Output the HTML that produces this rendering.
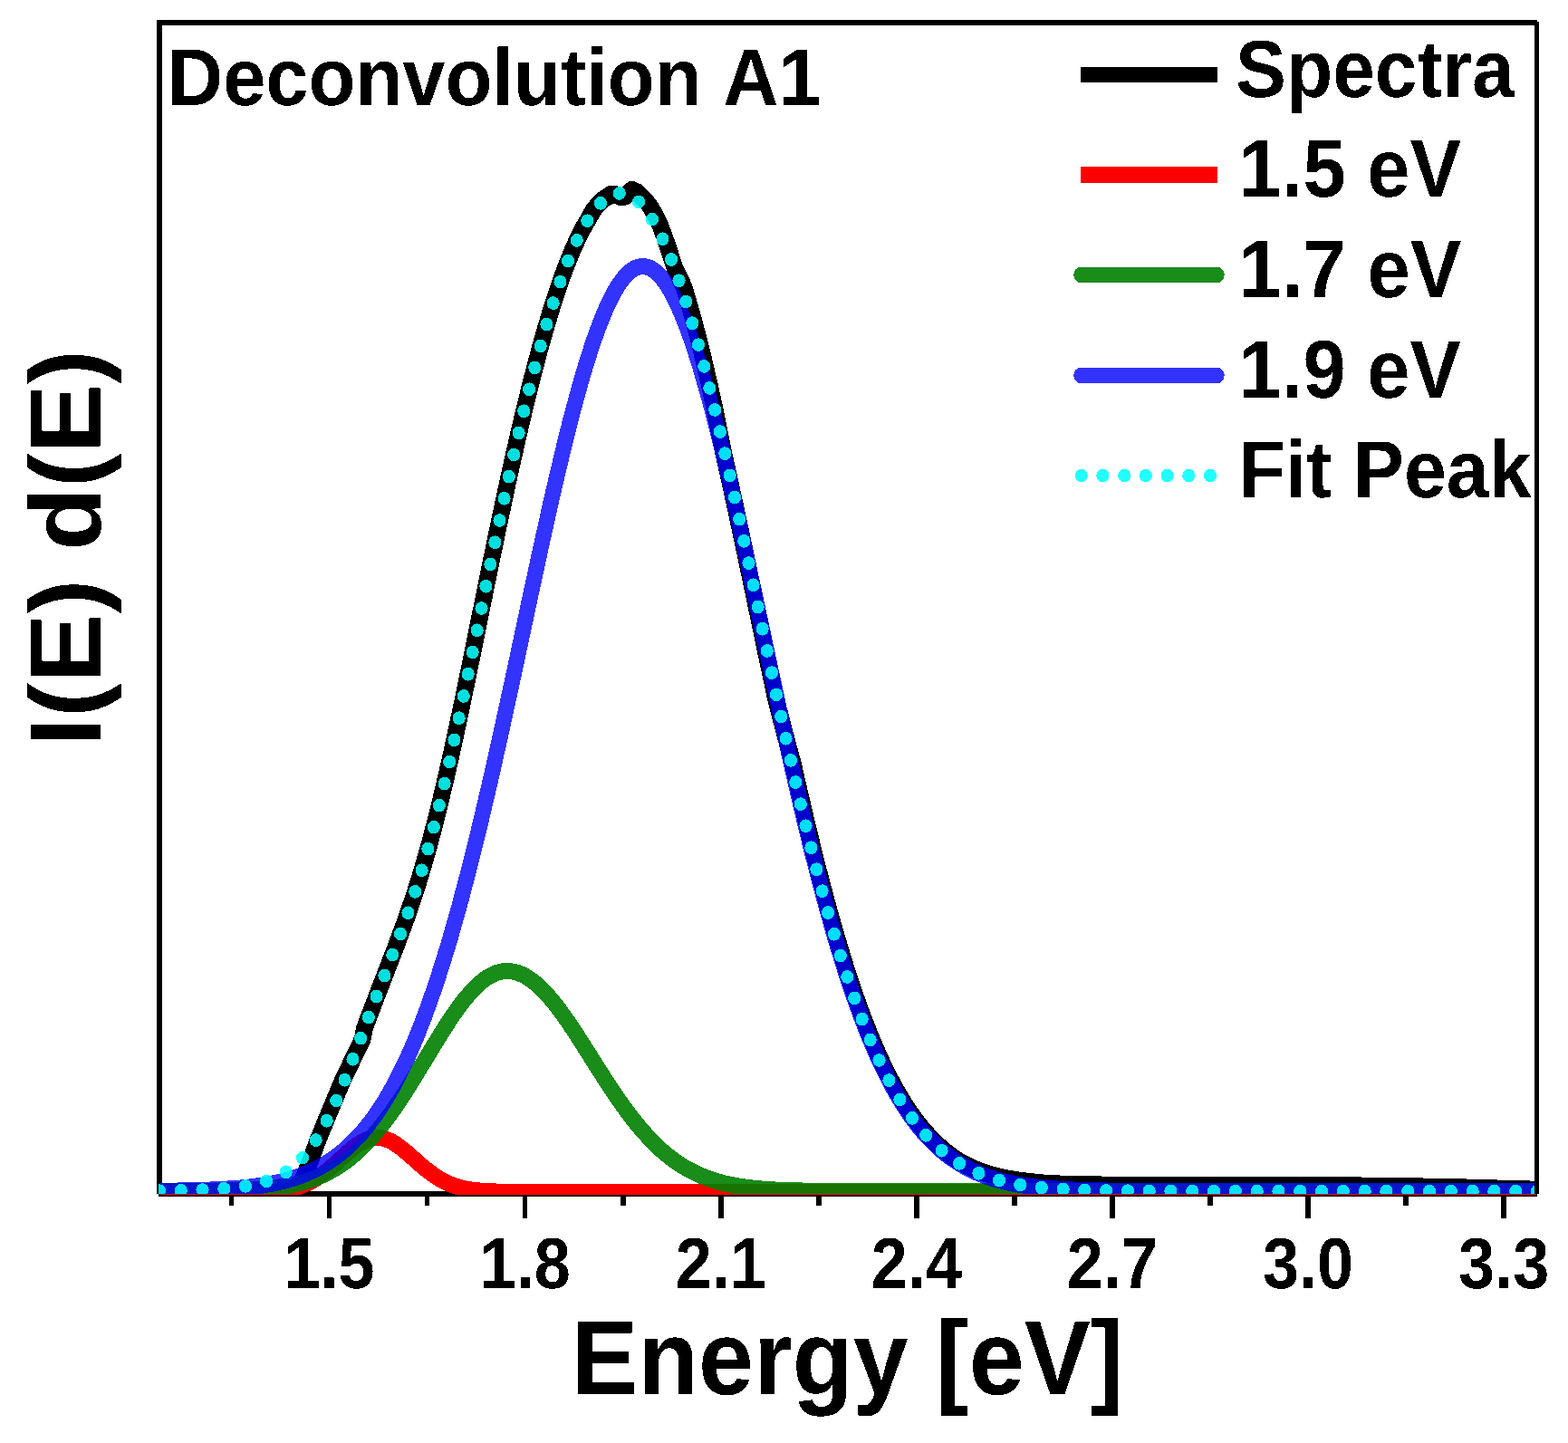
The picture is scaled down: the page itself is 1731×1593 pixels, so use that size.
<!DOCTYPE html>
<html lang="en"><head><meta charset="utf-8"><title>Deconvolution A1</title>
<style>html,body{margin:0;padding:0;background:#fff;}svg{display:block;}text{font-family:"Liberation Sans",sans-serif;font-weight:bold;fill:#000;font-kerning:none;text-rendering:geometricPrecision;}</style></head><body>
<svg width="1731" height="1593" viewBox="0 0 1731 1593">
<rect width="1731" height="1593" fill="#fff"/>
<defs><clipPath id="c"><rect x="182.29" y="28" width="1582.29" height="1290.00"/></clipPath><clipPath id="c2"><rect x="182.29" y="1318" width="1585.42" height="1"/></clipPath></defs>
<g transform="scale(0.96,1)" shape-rendering="crispEdges">
<g stroke="#000" stroke-width="6" fill="none">
<line x1="183.33" y1="22" x2="183.33" y2="1318"/>
<line x1="182.29" y1="1318" x2="1767.71" y2="1318"/>
<line x1="181.25" y1="25" x2="1767.71" y2="25"/>
<line x1="266.10" y1="1318" x2="266.10" y2="1331"/>
<line x1="378.65" y1="1318" x2="378.65" y2="1345"/>
<line x1="491.19" y1="1318" x2="491.19" y2="1331"/>
<line x1="603.74" y1="1318" x2="603.74" y2="1345"/>
<line x1="716.29" y1="1318" x2="716.29" y2="1331"/>
<line x1="828.83" y1="1318" x2="828.83" y2="1345"/>
<line x1="941.38" y1="1318" x2="941.38" y2="1331"/>
<line x1="1053.93" y1="1318" x2="1053.93" y2="1345"/>
<line x1="1166.47" y1="1318" x2="1166.47" y2="1331"/>
<line x1="1279.02" y1="1318" x2="1279.02" y2="1345"/>
<line x1="1391.57" y1="1318" x2="1391.57" y2="1331"/>
<line x1="1504.11" y1="1318" x2="1504.11" y2="1345"/>
<line x1="1616.66" y1="1318" x2="1616.66" y2="1331"/>
<line x1="1729.21" y1="1318" x2="1729.21" y2="1345"/>
</g>
<g clip-path="url(#c)" fill="none" stroke-linejoin="round">
<path d="M183.3,1315.5 L312.5,1315.5 L339.6,1315.0 L346.9,1305.0 L357.1,1281.3 L364.9,1260.3 L374.3,1238.2 L393.6,1193.7 L416.9,1147.0 L419.0,1135.9 L421.0,1130.6 L423.1,1125.2 L425.2,1119.9 L427.3,1114.6 L429.4,1109.4 L431.5,1104.1 L433.5,1098.9 L435.6,1093.7 L437.7,1088.5 L439.8,1083.4 L441.9,1078.2 L444.0,1073.0 L446.0,1067.9 L448.1,1062.7 L450.2,1057.5 L452.3,1052.3 L454.4,1047.1 L456.5,1041.8 L458.5,1036.5 L460.6,1031.2 L462.7,1025.7 L464.8,1020.2 L466.9,1014.6 L469.0,1009.0 L471.0,1003.2 L473.1,997.3 L475.2,991.3 L477.3,985.2 L479.4,979.0 L481.5,972.6 L483.5,966.1 L485.6,959.5 L487.7,952.7 L489.8,945.7 L491.9,938.6 L494.0,931.3 L496.0,923.9 L498.1,916.4 L500.2,908.6 L502.3,900.8 L504.4,892.7 L506.5,884.6 L508.5,876.2 L510.6,867.8 L512.7,859.2 L514.8,850.5 L516.9,841.6 L519.0,832.7 L521.0,823.6 L523.1,814.4 L525.2,805.1 L527.3,795.7 L529.4,786.3 L531.5,776.8 L533.5,767.2 L535.6,757.5 L537.7,747.8 L539.8,738.0 L541.9,728.2 L544.0,718.4 L546.0,708.5 L548.1,698.6 L550.2,688.7 L552.3,678.8 L554.4,668.9 L556.5,659.1 L558.5,649.2 L560.6,639.4 L562.7,629.6 L564.8,619.8 L566.9,610.0 L569.0,600.4 L571.0,590.7 L573.1,581.1 L575.2,571.6 L577.3,562.2 L579.4,552.8 L581.5,543.5 L583.5,534.2 L585.6,525.1 L587.7,516.0 L589.8,507.0 L591.9,498.1 L594.0,489.3 L596.0,480.6 L598.1,472.0 L600.2,463.4 L602.3,455.0 L604.4,446.7 L606.5,438.5 L608.5,430.4 L610.6,422.4 L612.7,414.6 L614.8,406.8 L616.9,399.2 L619.0,391.7 L621.0,384.3 L623.1,377.1 L625.2,370.0 L627.3,363.0 L629.4,356.2 L631.5,349.5 L633.5,343.0 L635.6,336.6 L637.7,330.3 L639.8,324.2 L641.9,318.2 L644.0,312.4 L646.0,306.7 L648.1,301.2 L650.2,295.9 L652.3,290.7 L654.4,285.6 L656.5,280.7 L658.5,276.0 L660.6,271.5 L662.7,267.1 L664.8,262.8 L666.9,258.8 L669.0,254.9 L671.0,251.1 L673.1,247.6 L675.2,244.2 L682.4,231.8 L691.7,221.5 L702.6,214.7 L709.4,215.2 L714.6,217.5 L719.8,216.5 L726.7,209.6 L732.3,212.0 L738.5,218.0 L746.5,226.2 L753.1,237.0 L759.4,249.3 L768.1,272.4 L775.8,295.5 L786.1,316.0 L788.1,322.2 L790.1,328.5 L792.0,334.9 L794.0,341.5 L796.0,348.2 L798.0,355.1 L799.9,362.1 L801.9,369.2 L803.9,376.5 L805.8,383.9 L807.7,391.4 L809.6,399.1 L811.5,406.9 L813.4,414.8 L815.4,422.8 L817.3,430.9 L819.1,439.2 L821.0,447.5 L822.8,456.0 L824.6,464.5 L826.4,473.1 L828.3,481.9 L830.1,490.7 L831.9,499.5 L834.0,508.4 L836.1,517.4 L838.1,526.4 L840.2,535.5 L842.3,544.7 L844.4,553.9 L846.5,563.2 L848.5,572.5 L850.6,581.9 L852.7,591.3 L854.8,600.7 L856.9,610.1 L858.9,619.6 L861.0,629.1 L863.1,638.7 L865.2,648.2 L867.3,657.7 L869.3,667.3 L871.4,676.9 L873.5,686.4 L875.6,696.0 L877.7,705.5 L879.7,715.0 L881.8,724.5 L883.9,734.0 L886.0,743.5 L888.1,752.9 L890.1,762.3 L892.2,771.6 L894.7,780.9 L897.2,790.1 L899.6,799.2 L902.1,808.3 L904.6,817.4 L907.1,826.4 L909.6,835.3 L912.1,844.2 L914.2,853.1 L916.3,861.9 L918.4,870.6 L920.5,879.3 L922.6,887.9 L924.7,896.5 L926.7,904.9 L928.8,913.3 L930.9,921.6 L933.0,929.8 L935.1,937.9 L937.2,946.0 L939.2,953.9 L941.3,961.8 L943.4,969.5 L945.5,977.2 L947.6,984.7 L949.7,992.2 L951.7,999.6 L953.8,1006.9 L955.9,1014.0 L958.0,1021.1 L960.1,1028.1 L962.2,1035.0 L964.3,1041.7 L966.3,1048.4 L968.4,1054.9 L970.5,1061.4 L972.6,1067.8 L974.7,1074.0 L976.7,1080.1 L978.8,1086.2 L980.9,1092.1 L983.0,1097.9 L985.1,1103.6 L987.2,1109.3 L989.2,1114.8 L991.3,1120.2 L993.4,1125.5 L995.5,1130.7 L997.6,1135.8 L999.6,1140.7 L1001.7,1145.6 L1003.8,1150.4 L1005.9,1155.1 L1008.0,1159.7 L1010.0,1164.2 L1012.1,1168.6 L1014.2,1172.9 L1016.3,1177.1 L1018.4,1181.2 L1020.4,1185.2 L1022.5,1189.1 L1024.6,1192.9 L1026.7,1196.6 L1028.7,1200.3 L1030.8,1203.8 L1032.9,1207.3 L1035.0,1210.7 L1037.0,1214.0 L1039.1,1217.2 L1041.2,1220.3 L1043.3,1223.3 L1045.3,1226.3 L1047.4,1229.2 L1049.5,1232.0 L1051.5,1234.7 L1053.6,1237.4 L1055.7,1240.0 L1057.8,1242.5 L1059.8,1244.9 L1061.9,1247.3 L1064.0,1249.6 L1066.0,1251.8 L1068.1,1254.0 L1070.2,1256.1 L1072.2,1258.1 L1074.3,1260.1 L1076.3,1262.0 L1078.4,1263.9 L1080.5,1265.7 L1082.5,1267.4 L1084.6,1269.1 L1086.7,1270.8 L1088.7,1272.4 L1090.8,1273.9 L1092.8,1275.4 L1094.9,1276.8 L1097.0,1278.2 L1099.0,1279.5 L1101.1,1280.8 L1103.1,1282.1 L1105.2,1283.3 L1107.3,1284.4 L1109.4,1285.5 L1111.5,1286.5 L1113.6,1287.5 L1115.7,1288.4 L1117.7,1289.4 L1119.8,1290.2 L1121.9,1291.1 L1124.0,1291.9 L1126.1,1292.7 L1128.2,1293.4 L1130.2,1294.1 L1132.3,1294.8 L1134.4,1295.5 L1136.5,1296.1 L1138.5,1296.7 L1140.6,1297.3 L1142.7,1297.8 L1144.8,1298.3 L1146.8,1298.9 L1148.9,1299.3 L1151.0,1299.8 L1153.0,1300.2 L1155.1,1300.6 L1157.2,1301.0 L1159.2,1301.4 L1161.3,1301.8 L1163.4,1302.1 L1165.4,1302.4 L1167.5,1302.8 L1169.6,1303.0 L1171.6,1303.3 L1173.7,1303.6 L1175.7,1303.8 L1177.8,1304.1 L1179.9,1304.3 L1181.9,1304.6 L1184.0,1304.8 L1186.1,1305.0 L1188.1,1305.2 L1190.2,1305.4 L1192.2,1305.6 L1194.3,1305.8 L1196.4,1306.0 L1198.4,1306.1 L1200.5,1306.3 L1202.6,1306.4 L1204.6,1306.6 L1206.7,1306.7 L1208.8,1306.8 L1210.8,1306.9 L1212.9,1307.0 L1215.0,1307.1 L1217.0,1307.2 L1219.1,1307.3 L1221.2,1307.4 L1223.2,1307.4 L1225.3,1307.5 L1227.4,1307.6 L1229.4,1307.6 L1231.5,1307.7 L1233.6,1307.7 L1235.7,1307.8 L1237.7,1307.8 L1239.8,1307.8 L1241.9,1307.9 L1244.0,1307.9 L1246.0,1307.9 L1248.1,1308.0 L1250.2,1308.0 L1252.3,1308.0 L1254.3,1308.1 L1256.4,1308.1 L1258.5,1308.1 L1260.6,1308.2 L1262.6,1308.2 L1264.7,1308.2 L1266.8,1308.3 L1268.9,1308.3 L1270.9,1308.3 L1273.0,1308.3 L1275.1,1308.4 L1277.2,1308.4 L1279.3,1308.4 L1281.3,1308.4 L1283.4,1308.4 L1285.5,1308.4 L1287.6,1308.5 L1289.6,1308.5 L1291.7,1308.5 L1293.8,1308.5 L1295.9,1308.5 L1298.0,1308.5 L1300.0,1308.5 L1302.1,1308.5 L1304.2,1308.5 L1306.3,1308.5 L1308.4,1308.5 L1310.5,1308.5 L1312.5,1308.5 L1314.6,1308.5 L1316.7,1308.5 L1318.8,1308.5 L1320.9,1308.5 L1322.9,1308.5 L1325.0,1308.5 L1327.1,1308.5 L1329.2,1308.5 L1331.3,1308.5 L1333.4,1308.5 L1335.4,1308.5 L1337.5,1308.5 L1339.6,1308.5 L1341.7,1308.5 L1343.8,1308.5 L1345.8,1308.5 L1347.9,1308.5 L1350.0,1308.5 L1352.1,1308.5 L1354.2,1308.5 L1356.3,1308.5 L1358.3,1308.5 L1360.4,1308.5 L1362.5,1308.5 L1364.6,1308.5 L1366.7,1308.5 L1368.8,1308.5 L1370.8,1308.5 L1372.9,1308.5 L1375.0,1308.5 L1377.1,1308.5 L1379.2,1308.5 L1381.3,1308.5 L1383.3,1308.5 L1385.4,1308.5 L1387.5,1308.5 L1389.6,1308.5 L1391.7,1308.5 L1393.8,1308.4 L1395.8,1308.4 L1397.9,1308.4 L1400.0,1308.4 L1402.1,1308.4 L1404.2,1308.4 L1406.3,1308.4 L1408.3,1308.4 L1410.4,1308.4 L1412.5,1308.4 L1414.6,1308.4 L1416.7,1308.4 L1418.8,1308.4 L1420.8,1308.4 L1422.9,1308.4 L1425.0,1308.4 L1427.1,1308.4 L1429.2,1308.4 L1431.3,1308.4 L1433.3,1308.4 L1435.4,1308.4 L1437.5,1308.4 L1439.6,1308.4 L1441.7,1308.4 L1443.8,1308.4 L1445.8,1308.4 L1447.9,1308.4 L1450.0,1308.4 L1452.1,1308.4 L1454.2,1308.4 L1456.3,1308.4 L1458.3,1308.4 L1460.4,1308.4 L1462.5,1308.4 L1464.6,1308.4 L1466.7,1308.5 L1468.8,1308.5 L1470.8,1308.5 L1472.9,1308.5 L1475.0,1308.5 L1477.1,1308.5 L1479.2,1308.6 L1481.3,1308.6 L1483.3,1308.6 L1485.4,1308.6 L1487.5,1308.6 L1489.6,1308.6 L1491.7,1308.7 L1493.8,1308.7 L1495.8,1308.7 L1497.9,1308.7 L1500.0,1308.7 L1502.1,1308.7 L1504.2,1308.8 L1506.3,1308.8 L1508.3,1308.8 L1510.4,1308.8 L1512.5,1308.8 L1514.6,1308.8 L1516.7,1308.8 L1518.8,1308.9 L1520.8,1308.9 L1522.9,1308.9 L1525.0,1308.9 L1527.1,1308.9 L1529.2,1308.9 L1531.3,1309.0 L1533.3,1309.0 L1535.4,1309.0 L1537.5,1309.0 L1539.6,1309.0 L1541.7,1309.0 L1543.8,1309.1 L1545.8,1309.1 L1547.9,1309.1 L1550.0,1309.1 L1552.1,1309.1 L1554.2,1309.1 L1556.3,1309.2 L1558.3,1309.2 L1560.4,1309.2 L1562.5,1309.2 L1564.6,1309.2 L1566.7,1309.3 L1568.8,1309.3 L1570.8,1309.3 L1572.9,1309.3 L1575.0,1309.4 L1577.1,1309.4 L1579.2,1309.4 L1581.3,1309.5 L1583.3,1309.5 L1585.4,1309.5 L1587.5,1309.6 L1589.6,1309.6 L1591.7,1309.6 L1593.8,1309.6 L1595.8,1309.7 L1597.9,1309.7 L1600.0,1309.7 L1602.1,1309.8 L1604.2,1309.8 L1606.3,1309.8 L1608.3,1309.9 L1610.4,1309.9 L1612.5,1309.9 L1614.6,1309.9 L1616.7,1310.0 L1618.8,1310.0 L1620.8,1310.0 L1622.9,1310.1 L1625.0,1310.1 L1627.1,1310.1 L1629.2,1310.2 L1631.3,1310.2 L1633.3,1310.2 L1635.4,1310.2 L1637.5,1310.3 L1639.6,1310.3 L1641.7,1310.3 L1643.8,1310.4 L1645.8,1310.4 L1647.9,1310.4 L1650.0,1310.5 L1652.1,1310.5 L1654.2,1310.5 L1656.3,1310.5 L1658.3,1310.6 L1660.4,1310.6 L1662.5,1310.6 L1664.6,1310.7 L1666.7,1310.7 L1668.8,1310.8 L1670.8,1310.8 L1672.9,1310.9 L1675.0,1310.9 L1677.1,1311.0 L1679.2,1311.0 L1681.3,1311.1 L1683.3,1311.2 L1685.4,1311.2 L1687.5,1311.3 L1689.6,1311.3 L1691.7,1311.4 L1693.8,1311.4 L1695.8,1311.5 L1697.9,1311.6 L1700.0,1311.6 L1702.1,1311.7 L1704.2,1311.7 L1706.3,1311.8 L1708.3,1311.8 L1710.4,1311.9 L1712.5,1312.0 L1714.6,1312.0 L1716.7,1312.1 L1718.8,1312.1 L1720.8,1312.2 L1722.9,1312.3 L1725.0,1312.3 L1727.1,1312.4 L1729.2,1312.4 L1731.3,1312.5 L1733.3,1312.5 L1735.4,1312.6 L1737.5,1312.7 L1739.6,1312.7 L1741.7,1312.8 L1743.8,1312.8 L1745.8,1312.9 L1747.9,1312.9 L1750.0,1313.0 L1752.1,1313.1 L1754.2,1313.1 L1756.3,1313.2 L1758.3,1313.2 L1760.4,1313.3 L1762.5,1313.3 L1764.6,1313.4 L1766.7,1313.4 L1768.8,1313.4 L1770.8,1313.5" stroke="#000" stroke-width="19.5"/>
<path d="M183.3,1315.8 L185.4,1315.8 L187.5,1315.8 L189.6,1315.8 L191.7,1315.8 L193.8,1315.8 L195.8,1315.8 L197.9,1315.8 L200.0,1315.8 L202.1,1315.8 L204.2,1315.8 L206.2,1315.8 L208.3,1315.8 L210.4,1315.8 L212.5,1315.8 L214.6,1315.8 L216.7,1315.8 L218.8,1315.8 L220.8,1315.8 L222.9,1315.8 L225.0,1315.8 L227.1,1315.8 L229.2,1315.8 L231.2,1315.8 L233.3,1315.8 L235.4,1315.8 L237.5,1315.8 L239.6,1315.8 L241.7,1315.8 L243.8,1315.8 L245.8,1315.8 L247.9,1315.8 L250.0,1315.8 L252.1,1315.8 L254.2,1315.8 L256.2,1315.8 L258.3,1315.8 L260.4,1315.8 L262.5,1315.8 L264.6,1315.8 L266.7,1315.8 L268.8,1315.8 L270.8,1315.8 L272.9,1315.8 L275.0,1315.8 L277.1,1315.7 L279.2,1315.7 L281.2,1315.7 L283.3,1315.7 L285.4,1315.7 L287.5,1315.7 L289.6,1315.6 L291.7,1315.6 L293.8,1315.6 L295.8,1315.5 L297.9,1315.5 L300.0,1315.4 L302.1,1315.4 L304.2,1315.3 L306.2,1315.2 L308.3,1315.1 L310.4,1315.0 L312.5,1314.9 L314.6,1314.8 L316.7,1314.6 L318.8,1314.4 L320.8,1314.2 L322.9,1314.0 L325.0,1313.8 L327.1,1313.5 L329.2,1313.2 L331.2,1312.8 L333.3,1312.4 L335.4,1312.0 L337.5,1311.5 L339.6,1311.0 L341.7,1310.5 L343.8,1309.9 L345.8,1309.2 L347.9,1308.5 L350.0,1307.7 L352.1,1306.8 L354.2,1305.9 L356.2,1305.0 L358.3,1303.9 L360.4,1302.8 L362.5,1301.7 L364.6,1300.4 L366.7,1299.1 L368.8,1297.8 L370.8,1296.3 L372.9,1294.8 L375.0,1293.3 L377.1,1291.7 L379.2,1290.0 L381.2,1288.3 L383.3,1286.6 L385.4,1284.8 L387.5,1283.0 L389.6,1281.2 L391.7,1279.4 L393.8,1277.6 L395.8,1275.8 L397.9,1274.0 L400.0,1272.2 L402.1,1270.5 L404.2,1268.8 L406.2,1267.2 L408.3,1265.7 L410.4,1264.2 L412.5,1262.9 L414.6,1261.6 L416.7,1260.4 L418.8,1259.4 L420.8,1258.4 L422.9,1257.6 L425.0,1257.0 L427.1,1256.5 L429.2,1256.1 L431.2,1255.9 L433.3,1255.8 L435.4,1255.9 L437.5,1256.1 L439.6,1256.4 L441.7,1256.9 L443.8,1257.6 L445.8,1258.3 L447.9,1259.2 L450.0,1260.2 L452.1,1261.3 L454.2,1262.5 L456.2,1263.8 L458.3,1265.2 L460.4,1266.7 L462.5,1268.3 L464.6,1269.9 L466.7,1271.6 L468.8,1273.3 L470.8,1275.0 L472.9,1276.8 L475.0,1278.5 L477.1,1280.3 L479.2,1282.1 L481.2,1283.8 L483.3,1285.6 L485.4,1287.3 L487.5,1289.0 L489.6,1290.6 L491.7,1292.2 L493.8,1293.7 L495.8,1295.2 L497.9,1296.7 L500.0,1298.1 L502.1,1299.4 L504.2,1300.6 L506.2,1301.8 L508.3,1303.0 L510.4,1304.0 L512.5,1305.0 L514.6,1306.0 L516.7,1306.9 L518.8,1307.7 L520.8,1308.4 L522.9,1309.2 L525.0,1309.8 L527.1,1310.4 L529.2,1311.0 L531.2,1311.5 L533.3,1311.9 L535.4,1312.4 L537.5,1312.7 L539.6,1313.1 L541.7,1313.4 L543.8,1313.7 L545.8,1313.9 L547.9,1314.2 L550.0,1314.4 L552.1,1314.5 L554.2,1314.7 L556.2,1314.8 L558.3,1315.0 L560.4,1315.1 L562.5,1315.2 L564.6,1315.3 L566.7,1315.3 L568.8,1315.4 L570.8,1315.5 L572.9,1315.5 L575.0,1315.6 L577.1,1315.6 L579.2,1315.6 L581.2,1315.7 L583.3,1315.7 L585.4,1315.7 L587.5,1315.7 L589.6,1315.7 L591.7,1315.7 L593.8,1315.7 L595.8,1315.8 L597.9,1315.8 L600.0,1315.8 L602.1,1315.8 L604.2,1315.8 L606.2,1315.8 L608.3,1315.8 L610.4,1315.8 L612.5,1315.8 L614.6,1315.8 L616.7,1315.8 L618.8,1315.8 L620.8,1315.8 L622.9,1315.8 L625.0,1315.8 L627.1,1315.8 L629.2,1315.8 L631.2,1315.8 L633.3,1315.8 L635.4,1315.8 L637.5,1315.8 L639.6,1315.8 L641.7,1315.8 L643.8,1315.8 L645.8,1315.8 L647.9,1315.8 L650.0,1315.8 L652.1,1315.8 L654.2,1315.8 L656.2,1315.8 L658.3,1315.8 L660.4,1315.8 L662.5,1315.8 L664.6,1315.8 L666.7,1315.8 L668.8,1315.8 L670.8,1315.8 L672.9,1315.8 L675.0,1315.8 L677.1,1315.8 L679.2,1315.8 L681.2,1315.8 L683.3,1315.8 L685.4,1315.8 L687.5,1315.8 L689.6,1315.8 L691.7,1315.8 L693.8,1315.8 L695.8,1315.8 L697.9,1315.8 L700.0,1315.8 L702.1,1315.8 L704.2,1315.8 L706.2,1315.8 L708.3,1315.8 L710.4,1315.8 L712.5,1315.8 L714.6,1315.8 L716.7,1315.8 L718.8,1315.8 L720.8,1315.8 L722.9,1315.8 L725.0,1315.8 L727.1,1315.8 L729.2,1315.8 L731.2,1315.8 L733.3,1315.8 L735.4,1315.8 L737.5,1315.8 L739.6,1315.8 L741.7,1315.8 L743.8,1315.8 L745.8,1315.8 L747.9,1315.8 L750.0,1315.8 L752.1,1315.8 L754.2,1315.8 L756.2,1315.8 L758.3,1315.8 L760.4,1315.8 L762.5,1315.8 L764.6,1315.8 L766.7,1315.8 L768.8,1315.8 L770.8,1315.8 L772.9,1315.8 L775.0,1315.8 L777.1,1315.8 L779.2,1315.8 L781.2,1315.8 L783.3,1315.8 L785.4,1315.8 L787.5,1315.8 L789.6,1315.8 L791.7,1315.8 L793.8,1315.8 L795.8,1315.8 L797.9,1315.8 L800.0,1315.8 L802.1,1315.8 L804.2,1315.8 L806.2,1315.8 L808.3,1315.8 L810.4,1315.8 L812.5,1315.8 L814.6,1315.8 L816.7,1315.8 L818.8,1315.8 L820.8,1315.8 L822.9,1315.8 L825.0,1315.8 L827.1,1315.8 L829.2,1315.8 L831.2,1315.8 L833.3,1315.8 L835.4,1315.8 L837.5,1315.8 L839.6,1315.8 L841.7,1315.8 L843.8,1315.8 L845.8,1315.8 L847.9,1315.8 L850.0,1315.8 L852.1,1315.8 L854.2,1315.8 L856.2,1315.8 L858.3,1315.8 L860.4,1315.8 L862.5,1315.8 L864.6,1315.8 L866.7,1315.8 L868.8,1315.8 L870.8,1315.8 L872.9,1315.8 L875.0,1315.8 L877.1,1315.8 L879.2,1315.8 L881.2,1315.8 L883.3,1315.8 L885.4,1315.8 L887.5,1315.8 L889.6,1315.8 L891.7,1315.8 L893.8,1315.8 L895.8,1315.8 L897.9,1315.8 L900.0,1315.8 L902.1,1315.8 L904.2,1315.8 L906.2,1315.8 L908.3,1315.8 L910.4,1315.8 L912.5,1315.8 L914.6,1315.8 L916.7,1315.8 L918.8,1315.8 L920.8,1315.8 L922.9,1315.8 L925.0,1315.8 L927.1,1315.8 L929.2,1315.8 L931.2,1315.8 L933.3,1315.8 L935.4,1315.8 L937.5,1315.8 L939.6,1315.8 L941.7,1315.8 L943.8,1315.8 L945.8,1315.8 L947.9,1315.8 L950.0,1315.8 L952.1,1315.8 L954.2,1315.8 L956.2,1315.8 L958.3,1315.8 L960.4,1315.8 L962.5,1315.8 L964.6,1315.8 L966.7,1315.8 L968.8,1315.8 L970.8,1315.8 L972.9,1315.8 L975.0,1315.8 L977.1,1315.8 L979.2,1315.8 L981.2,1315.8 L983.3,1315.8 L985.4,1315.8 L987.5,1315.8 L989.6,1315.8 L991.7,1315.8 L993.8,1315.8 L995.8,1315.8 L997.9,1315.8 L1000.0,1315.8 L1002.1,1315.8 L1004.2,1315.8 L1006.2,1315.8 L1008.3,1315.8 L1010.4,1315.8 L1012.5,1315.8 L1014.6,1315.8 L1016.7,1315.8 L1018.8,1315.8 L1020.8,1315.8 L1022.9,1315.8 L1025.0,1315.8 L1027.1,1315.8 L1029.2,1315.8 L1031.2,1315.8 L1033.3,1315.8 L1035.4,1315.8 L1037.5,1315.8 L1039.6,1315.8 L1041.7,1315.8 L1043.8,1315.8 L1045.8,1315.8 L1047.9,1315.8 L1050.0,1315.8 L1052.1,1315.8 L1054.2,1315.8 L1056.2,1315.8 L1058.3,1315.8 L1060.4,1315.8 L1062.5,1315.8 L1064.6,1315.8 L1066.7,1315.8 L1068.8,1315.8 L1070.8,1315.8 L1072.9,1315.8 L1075.0,1315.8 L1077.1,1315.8 L1079.2,1315.8 L1081.2,1315.8 L1083.3,1315.8 L1085.4,1315.8 L1087.5,1315.8 L1089.6,1315.8 L1091.7,1315.8 L1093.8,1315.8 L1095.8,1315.8 L1097.9,1315.8 L1100.0,1315.8 L1102.1,1315.8 L1104.2,1315.8 L1106.2,1315.8 L1108.3,1315.8 L1110.4,1315.8 L1112.5,1315.8 L1114.6,1315.8 L1116.7,1315.8 L1118.8,1315.8 L1120.8,1315.8 L1122.9,1315.8 L1125.0,1315.8 L1127.1,1315.8 L1129.2,1315.8 L1131.2,1315.8 L1133.3,1315.8 L1135.4,1315.8 L1137.5,1315.8 L1139.6,1315.8 L1141.7,1315.8 L1143.8,1315.8 L1145.8,1315.8 L1147.9,1315.8 L1150.0,1315.8 L1152.1,1315.8 L1154.2,1315.8 L1156.2,1315.8 L1158.3,1315.8 L1160.4,1315.8 L1162.5,1315.8 L1164.6,1315.8 L1166.7,1315.8 L1168.8,1315.8 L1170.8,1315.8 L1172.9,1315.8 L1175.0,1315.8 L1177.1,1315.8 L1179.2,1315.8 L1181.2,1315.8 L1183.3,1315.8 L1185.4,1315.8 L1187.5,1315.8 L1189.6,1315.8 L1191.7,1315.8 L1193.8,1315.8 L1195.8,1315.8 L1197.9,1315.8 L1200.0,1315.8 L1202.1,1315.8 L1204.2,1315.8 L1206.2,1315.8 L1208.3,1315.8 L1210.4,1315.8 L1212.5,1315.8 L1214.6,1315.8 L1216.7,1315.8 L1218.8,1315.8 L1220.8,1315.8 L1222.9,1315.8 L1225.0,1315.8 L1227.1,1315.8 L1229.2,1315.8 L1231.2,1315.8 L1233.3,1315.8 L1235.4,1315.8 L1237.5,1315.8 L1239.6,1315.8 L1241.7,1315.8 L1243.8,1315.8 L1245.8,1315.8 L1247.9,1315.8 L1250.0,1315.8 L1252.1,1315.8 L1254.2,1315.8 L1256.2,1315.8 L1258.3,1315.8 L1260.4,1315.8 L1262.5,1315.8 L1264.6,1315.8 L1266.7,1315.8 L1268.8,1315.8 L1270.8,1315.8 L1272.9,1315.8 L1275.0,1315.8 L1277.1,1315.8 L1279.2,1315.8 L1281.2,1315.8 L1283.3,1315.8 L1285.4,1315.8 L1287.5,1315.8 L1289.6,1315.8 L1291.7,1315.8 L1293.8,1315.8 L1295.8,1315.8 L1297.9,1315.8 L1300.0,1315.8 L1302.1,1315.8 L1304.2,1315.8 L1306.2,1315.8 L1308.3,1315.8 L1310.4,1315.8 L1312.5,1315.8 L1314.6,1315.8 L1316.7,1315.8 L1318.8,1315.8 L1320.8,1315.8 L1322.9,1315.8 L1325.0,1315.8 L1327.1,1315.8 L1329.2,1315.8 L1331.2,1315.8 L1333.3,1315.8 L1335.4,1315.8 L1337.5,1315.8 L1339.6,1315.8 L1341.7,1315.8 L1343.8,1315.8 L1345.8,1315.8 L1347.9,1315.8 L1350.0,1315.8 L1352.1,1315.8 L1354.2,1315.8 L1356.2,1315.8 L1358.3,1315.8 L1360.4,1315.8 L1362.5,1315.8 L1364.6,1315.8 L1366.7,1315.8 L1368.8,1315.8 L1370.8,1315.8 L1372.9,1315.8 L1375.0,1315.8 L1377.1,1315.8 L1379.2,1315.8 L1381.2,1315.8 L1383.3,1315.8 L1385.4,1315.8 L1387.5,1315.8 L1389.6,1315.8 L1391.7,1315.8 L1393.8,1315.8 L1395.8,1315.8 L1397.9,1315.8 L1400.0,1315.8 L1402.1,1315.8 L1404.2,1315.8 L1406.2,1315.8 L1408.3,1315.8 L1410.4,1315.8 L1412.5,1315.8 L1414.6,1315.8 L1416.7,1315.8 L1418.8,1315.8 L1420.8,1315.8 L1422.9,1315.8 L1425.0,1315.8 L1427.1,1315.8 L1429.2,1315.8 L1431.2,1315.8 L1433.3,1315.8 L1435.4,1315.8 L1437.5,1315.8 L1439.6,1315.8 L1441.7,1315.8 L1443.8,1315.8 L1445.8,1315.8 L1447.9,1315.8 L1450.0,1315.8 L1452.1,1315.8 L1454.2,1315.8 L1456.2,1315.8 L1458.3,1315.8 L1460.4,1315.8 L1462.5,1315.8 L1464.6,1315.8 L1466.7,1315.8 L1468.8,1315.8 L1470.8,1315.8 L1472.9,1315.8 L1475.0,1315.8 L1477.1,1315.8 L1479.2,1315.8 L1481.2,1315.8 L1483.3,1315.8 L1485.4,1315.8 L1487.5,1315.8 L1489.6,1315.8 L1491.7,1315.8 L1493.8,1315.8 L1495.8,1315.8 L1497.9,1315.8 L1500.0,1315.8 L1502.1,1315.8 L1504.2,1315.8 L1506.2,1315.8 L1508.3,1315.8 L1510.4,1315.8 L1512.5,1315.8 L1514.6,1315.8 L1516.7,1315.8 L1518.8,1315.8 L1520.8,1315.8 L1522.9,1315.8 L1525.0,1315.8 L1527.1,1315.8 L1529.2,1315.8 L1531.2,1315.8 L1533.3,1315.8 L1535.4,1315.8 L1537.5,1315.8 L1539.6,1315.8 L1541.7,1315.8 L1543.8,1315.8 L1545.8,1315.8 L1547.9,1315.8 L1550.0,1315.8 L1552.1,1315.8 L1554.2,1315.8 L1556.2,1315.8 L1558.3,1315.8 L1560.4,1315.8 L1562.5,1315.8 L1564.6,1315.8 L1566.7,1315.8 L1568.8,1315.8 L1570.8,1315.8 L1572.9,1315.8 L1575.0,1315.8 L1577.1,1315.8 L1579.2,1315.8 L1581.2,1315.8 L1583.3,1315.8 L1585.4,1315.8 L1587.5,1315.8 L1589.6,1315.8 L1591.7,1315.8 L1593.8,1315.8 L1595.8,1315.8 L1597.9,1315.8 L1600.0,1315.8 L1602.1,1315.8 L1604.2,1315.8 L1606.2,1315.8 L1608.3,1315.8 L1610.4,1315.8 L1612.5,1315.8 L1614.6,1315.8 L1616.7,1315.8 L1618.8,1315.8 L1620.8,1315.8 L1622.9,1315.8 L1625.0,1315.8 L1627.1,1315.8 L1629.2,1315.8 L1631.2,1315.8 L1633.3,1315.8 L1635.4,1315.8 L1637.5,1315.8 L1639.6,1315.8 L1641.7,1315.8 L1643.8,1315.8 L1645.8,1315.8 L1647.9,1315.8 L1650.0,1315.8 L1652.1,1315.8 L1654.2,1315.8 L1656.2,1315.8 L1658.3,1315.8 L1660.4,1315.8 L1662.5,1315.8 L1664.6,1315.8 L1666.7,1315.8 L1668.8,1315.8 L1670.8,1315.8 L1672.9,1315.8 L1675.0,1315.8 L1677.1,1315.8 L1679.2,1315.8 L1681.2,1315.8 L1683.3,1315.8 L1685.4,1315.8 L1687.5,1315.8 L1689.6,1315.8 L1691.7,1315.8 L1693.8,1315.8 L1695.8,1315.8 L1697.9,1315.8 L1700.0,1315.8 L1702.1,1315.8 L1704.2,1315.8 L1706.2,1315.8 L1708.3,1315.8 L1710.4,1315.8 L1712.5,1315.8 L1714.6,1315.8 L1716.7,1315.8 L1718.8,1315.8 L1720.8,1315.8 L1722.9,1315.8 L1725.0,1315.8 L1727.1,1315.8 L1729.2,1315.8 L1731.2,1315.8 L1733.3,1315.8 L1735.4,1315.8 L1737.5,1315.8 L1739.6,1315.8 L1741.7,1315.8 L1743.8,1315.8 L1745.8,1315.8 L1747.9,1315.8 L1750.0,1315.8 L1752.1,1315.8 L1754.2,1315.8 L1756.2,1315.8 L1758.3,1315.8 L1760.4,1315.8 L1762.5,1315.8 L1764.6,1315.8 L1766.7,1315.8" stroke="#ff0000" stroke-width="18"/>
<path d="M183.3,1315.0 L185.4,1315.0 L187.5,1315.0 L189.6,1315.0 L191.7,1315.0 L193.8,1315.0 L195.8,1315.0 L197.9,1315.0 L200.0,1315.0 L202.1,1314.9 L204.2,1314.9 L206.2,1314.9 L208.3,1314.9 L210.4,1314.9 L212.5,1314.9 L214.6,1314.9 L216.7,1314.9 L218.8,1314.9 L220.8,1314.9 L222.9,1314.9 L225.0,1314.9 L227.1,1314.8 L229.2,1314.8 L231.2,1314.8 L233.3,1314.8 L235.4,1314.8 L237.5,1314.8 L239.6,1314.7 L241.7,1314.7 L243.8,1314.7 L245.8,1314.7 L247.9,1314.6 L250.0,1314.6 L252.1,1314.6 L254.2,1314.5 L256.2,1314.5 L258.3,1314.5 L260.4,1314.4 L262.5,1314.4 L264.6,1314.3 L266.7,1314.3 L268.8,1314.2 L270.8,1314.2 L272.9,1314.1 L275.0,1314.0 L277.1,1314.0 L279.2,1313.9 L281.2,1313.8 L283.3,1313.7 L285.4,1313.6 L287.5,1313.5 L289.6,1313.4 L291.7,1313.3 L293.8,1313.1 L295.8,1313.0 L297.9,1312.9 L300.0,1312.7 L302.1,1312.5 L304.2,1312.4 L306.2,1312.2 L308.3,1312.0 L310.4,1311.8 L312.5,1311.6 L314.6,1311.3 L316.7,1311.1 L318.8,1310.8 L320.8,1310.5 L322.9,1310.3 L325.0,1309.9 L327.1,1309.6 L329.2,1309.3 L331.2,1308.9 L333.3,1308.5 L335.4,1308.1 L337.5,1307.7 L339.6,1307.3 L341.7,1306.8 L343.8,1306.3 L345.8,1305.8 L347.9,1305.2 L350.0,1304.7 L352.1,1304.1 L354.2,1303.5 L356.2,1302.8 L358.3,1302.1 L360.4,1301.4 L362.5,1300.6 L364.6,1299.9 L366.7,1299.0 L368.8,1298.2 L370.8,1297.3 L372.9,1296.4 L375.0,1295.4 L377.1,1294.4 L379.2,1293.3 L381.2,1292.2 L383.3,1291.1 L385.4,1289.9 L387.5,1288.7 L389.6,1287.4 L391.7,1286.1 L393.8,1284.8 L395.8,1283.4 L397.9,1281.9 L400.0,1280.4 L402.1,1278.8 L404.2,1277.2 L406.2,1275.5 L408.3,1273.8 L410.4,1272.1 L412.5,1270.2 L414.6,1268.4 L416.7,1266.4 L418.8,1264.4 L420.8,1262.4 L422.9,1260.3 L425.0,1258.2 L427.1,1255.9 L429.2,1253.7 L431.2,1251.4 L433.3,1249.0 L435.4,1246.6 L437.5,1244.1 L439.6,1241.6 L441.7,1239.0 L443.8,1236.4 L445.8,1233.7 L447.9,1231.0 L450.0,1228.2 L452.1,1225.4 L454.2,1222.5 L456.2,1219.6 L458.3,1216.6 L460.4,1213.6 L462.5,1210.6 L464.6,1207.6 L466.7,1204.4 L468.8,1201.3 L470.8,1198.2 L472.9,1195.0 L475.0,1191.7 L477.1,1188.5 L479.2,1185.2 L481.2,1182.0 L483.3,1178.7 L485.4,1175.4 L487.5,1172.1 L489.6,1168.8 L491.7,1165.5 L493.8,1162.2 L495.8,1158.8 L497.9,1155.6 L500.0,1152.3 L502.1,1149.0 L504.2,1145.8 L506.2,1142.5 L508.3,1139.3 L510.4,1136.2 L512.5,1133.0 L514.6,1130.0 L516.7,1126.9 L518.8,1123.9 L520.8,1121.0 L522.9,1118.1 L525.0,1115.2 L527.1,1112.4 L529.2,1109.7 L531.2,1107.1 L533.3,1104.5 L535.4,1102.0 L537.5,1099.6 L539.6,1097.3 L541.7,1095.0 L543.8,1092.9 L545.8,1090.8 L547.9,1088.8 L550.0,1086.9 L552.1,1085.2 L554.2,1083.5 L556.2,1081.9 L558.3,1080.5 L560.4,1079.1 L562.5,1077.9 L564.6,1076.8 L566.7,1075.8 L568.8,1074.9 L570.8,1074.1 L572.9,1073.4 L575.0,1072.9 L577.1,1072.5 L579.2,1072.2 L581.2,1072.0 L583.3,1072.0 L585.4,1072.1 L587.5,1072.3 L589.6,1072.6 L591.7,1073.0 L593.8,1073.5 L595.8,1074.1 L597.9,1074.9 L600.0,1075.7 L602.1,1076.7 L604.2,1077.7 L606.2,1078.9 L608.3,1080.2 L610.4,1081.5 L612.5,1083.0 L614.6,1084.6 L616.7,1086.2 L618.8,1088.0 L620.8,1089.8 L622.9,1091.8 L625.0,1093.8 L627.1,1095.9 L629.2,1098.1 L631.2,1100.3 L633.3,1102.7 L635.4,1105.1 L637.5,1107.5 L639.6,1110.1 L641.7,1112.7 L643.8,1115.3 L645.8,1118.1 L647.9,1120.8 L650.0,1123.7 L652.1,1126.5 L654.2,1129.4 L656.2,1132.4 L658.3,1135.4 L660.4,1138.4 L662.5,1141.4 L664.6,1144.5 L666.7,1147.6 L668.8,1150.7 L670.8,1153.9 L672.9,1157.0 L675.0,1160.2 L677.1,1163.3 L679.2,1166.5 L681.2,1169.7 L683.3,1172.8 L685.4,1176.0 L687.5,1179.2 L689.6,1182.3 L691.7,1185.4 L693.8,1188.6 L695.8,1191.7 L697.9,1194.7 L700.0,1197.8 L702.1,1200.8 L704.2,1203.8 L706.2,1206.8 L708.3,1209.7 L710.4,1212.7 L712.5,1215.5 L714.6,1218.4 L716.7,1221.2 L718.8,1223.9 L720.8,1226.7 L722.9,1229.3 L725.0,1232.0 L727.1,1234.6 L729.2,1237.1 L731.2,1239.6 L733.3,1242.1 L735.4,1244.5 L737.5,1246.9 L739.6,1249.2 L741.7,1251.4 L743.8,1253.6 L745.8,1255.8 L747.9,1257.9 L750.0,1260.0 L752.1,1262.0 L754.2,1264.0 L756.2,1265.9 L758.3,1267.7 L760.4,1269.6 L762.5,1271.3 L764.6,1273.0 L766.7,1274.7 L768.8,1276.3 L770.8,1277.9 L772.9,1279.4 L775.0,1280.9 L777.1,1282.3 L779.2,1283.7 L781.2,1285.1 L783.3,1286.3 L785.4,1287.6 L787.5,1288.8 L789.6,1290.0 L791.7,1291.1 L793.8,1292.2 L795.8,1293.2 L797.9,1294.2 L800.0,1295.2 L802.1,1296.2 L804.2,1297.1 L806.2,1297.9 L808.3,1298.7 L810.4,1299.5 L812.5,1300.3 L814.6,1301.0 L816.7,1301.7 L818.8,1302.4 L820.8,1303.1 L822.9,1303.7 L825.0,1304.3 L827.1,1304.8 L829.2,1305.4 L831.2,1305.9 L833.3,1306.4 L835.4,1306.8 L837.5,1307.3 L839.6,1307.7 L841.7,1308.1 L843.8,1308.5 L845.8,1308.9 L847.9,1309.2 L850.0,1309.6 L852.1,1309.9 L854.2,1310.2 L856.2,1310.4 L858.3,1310.7 L860.4,1311.0 L862.5,1311.2 L864.6,1311.4 L866.7,1311.7 L868.8,1311.9 L870.8,1312.1 L872.9,1312.2 L875.0,1312.4 L877.1,1312.6 L879.2,1312.7 L881.2,1312.9 L883.3,1313.0 L885.4,1313.1 L887.5,1313.3 L889.6,1313.4 L891.7,1313.5 L893.8,1313.6 L895.8,1313.7 L897.9,1313.8 L900.0,1313.8 L902.1,1313.9 L904.2,1314.0 L906.2,1314.1 L908.3,1314.1 L910.4,1314.2 L912.5,1314.3 L914.6,1314.3 L916.7,1314.4 L918.8,1314.4 L920.8,1314.4 L922.9,1314.5 L925.0,1314.5 L927.1,1314.6 L929.2,1314.6 L931.2,1314.6 L933.3,1314.6 L935.4,1314.7 L937.5,1314.7 L939.6,1314.7 L941.7,1314.7 L943.8,1314.8 L945.8,1314.8 L947.9,1314.8 L950.0,1314.8 L952.1,1314.8 L954.2,1314.8 L956.2,1314.9 L958.3,1314.9 L960.4,1314.9 L962.5,1314.9 L964.6,1314.9 L966.7,1314.9 L968.8,1314.9 L970.8,1314.9 L972.9,1314.9 L975.0,1314.9 L977.1,1314.9 L979.2,1314.9 L981.2,1314.9 L983.3,1315.0 L985.4,1315.0 L987.5,1315.0 L989.6,1315.0 L991.7,1315.0 L993.8,1315.0 L995.8,1315.0 L997.9,1315.0 L1000.0,1315.0 L1002.1,1315.0 L1004.2,1315.0 L1006.2,1315.0 L1008.3,1315.0 L1010.4,1315.0 L1012.5,1315.0 L1014.6,1315.0 L1016.7,1315.0 L1018.8,1315.0 L1020.8,1315.0 L1022.9,1315.0 L1025.0,1315.0 L1027.1,1315.0 L1029.2,1315.0 L1031.2,1315.0 L1033.3,1315.0 L1035.4,1315.0 L1037.5,1315.0 L1039.6,1315.0 L1041.7,1315.0 L1043.8,1315.0 L1045.8,1315.0 L1047.9,1315.0 L1050.0,1315.0 L1052.1,1315.0 L1054.2,1315.0 L1056.2,1315.0 L1058.3,1315.0 L1060.4,1315.0 L1062.5,1315.0 L1064.6,1315.0 L1066.7,1315.0 L1068.8,1315.0 L1070.8,1315.0 L1072.9,1315.0 L1075.0,1315.0 L1077.1,1315.0 L1079.2,1315.0 L1081.2,1315.0 L1083.3,1315.0 L1085.4,1315.0 L1087.5,1315.0 L1089.6,1315.0 L1091.7,1315.0 L1093.8,1315.0 L1095.8,1315.0 L1097.9,1315.0 L1100.0,1315.0 L1102.1,1315.0 L1104.2,1315.0 L1106.2,1315.0 L1108.3,1315.0 L1110.4,1315.0 L1112.5,1315.0 L1114.6,1315.0 L1116.7,1315.0 L1118.8,1315.0 L1120.8,1315.0 L1122.9,1315.0 L1125.0,1315.0 L1127.1,1315.0 L1129.2,1315.0 L1131.2,1315.0 L1133.3,1315.0 L1135.4,1315.0 L1137.5,1315.0 L1139.6,1315.0 L1141.7,1315.0 L1143.8,1315.0 L1145.8,1315.0 L1147.9,1315.0 L1150.0,1315.0 L1152.1,1315.0 L1154.2,1315.0 L1156.2,1315.0 L1158.3,1315.0 L1160.4,1315.0 L1162.5,1315.0 L1164.6,1315.0 L1166.7,1315.0 L1168.8,1315.0 L1170.8,1315.0 L1172.9,1315.0 L1175.0,1315.0 L1177.1,1315.0 L1179.2,1315.0 L1181.2,1315.0 L1183.3,1315.0 L1185.4,1315.0 L1187.5,1315.0 L1189.6,1315.0 L1191.7,1315.0 L1193.8,1315.0 L1195.8,1315.0 L1197.9,1315.0 L1200.0,1315.0 L1202.1,1315.0 L1204.2,1315.0 L1206.2,1315.0 L1208.3,1315.0 L1210.4,1315.0 L1212.5,1315.0 L1214.6,1315.0 L1216.7,1315.0 L1218.8,1315.0 L1220.8,1315.0 L1222.9,1315.0 L1225.0,1315.0 L1227.1,1315.0 L1229.2,1315.0 L1231.2,1315.0 L1233.3,1315.0 L1235.4,1315.0 L1237.5,1315.0 L1239.6,1315.0 L1241.7,1315.0 L1243.8,1315.0 L1245.8,1315.0 L1247.9,1315.0 L1250.0,1315.0 L1252.1,1315.0 L1254.2,1315.0 L1256.2,1315.0 L1258.3,1315.0 L1260.4,1315.0 L1262.5,1315.0 L1264.6,1315.0 L1266.7,1315.0 L1268.8,1315.0 L1270.8,1315.0 L1272.9,1315.0 L1275.0,1315.0 L1277.1,1315.0 L1279.2,1315.0 L1281.2,1315.0 L1283.3,1315.0 L1285.4,1315.0 L1287.5,1315.0 L1289.6,1315.0 L1291.7,1315.0 L1293.8,1315.0 L1295.8,1315.0 L1297.9,1315.0 L1300.0,1315.0 L1302.1,1315.0 L1304.2,1315.0 L1306.2,1315.0 L1308.3,1315.0 L1310.4,1315.0 L1312.5,1315.0 L1314.6,1315.0 L1316.7,1315.0 L1318.8,1315.0 L1320.8,1315.0 L1322.9,1315.0 L1325.0,1315.0 L1327.1,1315.0 L1329.2,1315.0 L1331.2,1315.0 L1333.3,1315.0 L1335.4,1315.0 L1337.5,1315.0 L1339.6,1315.0 L1341.7,1315.0 L1343.8,1315.0 L1345.8,1315.0 L1347.9,1315.0 L1350.0,1315.0 L1352.1,1315.0 L1354.2,1315.0 L1356.2,1315.0 L1358.3,1315.0 L1360.4,1315.0 L1362.5,1315.0 L1364.6,1315.0 L1366.7,1315.0 L1368.8,1315.0 L1370.8,1315.0 L1372.9,1315.0 L1375.0,1315.0 L1377.1,1315.0 L1379.2,1315.0 L1381.2,1315.0 L1383.3,1315.0 L1385.4,1315.0 L1387.5,1315.0 L1389.6,1315.0 L1391.7,1315.0 L1393.8,1315.0 L1395.8,1315.0 L1397.9,1315.0 L1400.0,1315.0 L1402.1,1315.0 L1404.2,1315.0 L1406.2,1315.0 L1408.3,1315.0 L1410.4,1315.0 L1412.5,1315.0 L1414.6,1315.0 L1416.7,1315.0 L1418.8,1315.0 L1420.8,1315.0 L1422.9,1315.0 L1425.0,1315.0 L1427.1,1315.0 L1429.2,1315.0 L1431.2,1315.0 L1433.3,1315.0 L1435.4,1315.0 L1437.5,1315.0 L1439.6,1315.0 L1441.7,1315.0 L1443.8,1315.0 L1445.8,1315.0 L1447.9,1315.0 L1450.0,1315.0 L1452.1,1315.0 L1454.2,1315.0 L1456.2,1315.0 L1458.3,1315.0 L1460.4,1315.0 L1462.5,1315.0 L1464.6,1315.0 L1466.7,1315.0 L1468.8,1315.0 L1470.8,1315.0 L1472.9,1315.0 L1475.0,1315.0 L1477.1,1315.0 L1479.2,1315.0 L1481.2,1315.0 L1483.3,1315.0 L1485.4,1315.0 L1487.5,1315.0 L1489.6,1315.0 L1491.7,1315.0 L1493.8,1315.0 L1495.8,1315.0 L1497.9,1315.0 L1500.0,1315.0 L1502.1,1315.0 L1504.2,1315.0 L1506.2,1315.0 L1508.3,1315.0 L1510.4,1315.0 L1512.5,1315.0 L1514.6,1315.0 L1516.7,1315.0 L1518.8,1315.0 L1520.8,1315.0 L1522.9,1315.0 L1525.0,1315.0 L1527.1,1315.0 L1529.2,1315.0 L1531.2,1315.0 L1533.3,1315.0 L1535.4,1315.0 L1537.5,1315.0 L1539.6,1315.0 L1541.7,1315.0 L1543.8,1315.0 L1545.8,1315.0 L1547.9,1315.0 L1550.0,1315.0 L1552.1,1315.0 L1554.2,1315.0 L1556.2,1315.0 L1558.3,1315.0 L1560.4,1315.0 L1562.5,1315.0 L1564.6,1315.0 L1566.7,1315.0 L1568.8,1315.0 L1570.8,1315.0 L1572.9,1315.0 L1575.0,1315.0 L1577.1,1315.0 L1579.2,1315.0 L1581.2,1315.0 L1583.3,1315.0 L1585.4,1315.0 L1587.5,1315.0 L1589.6,1315.0 L1591.7,1315.0 L1593.8,1315.0 L1595.8,1315.0 L1597.9,1315.0 L1600.0,1315.0 L1602.1,1315.0 L1604.2,1315.0 L1606.2,1315.0 L1608.3,1315.0 L1610.4,1315.0 L1612.5,1315.0 L1614.6,1315.0 L1616.7,1315.0 L1618.8,1315.0 L1620.8,1315.0 L1622.9,1315.0 L1625.0,1315.0 L1627.1,1315.0 L1629.2,1315.0 L1631.2,1315.0 L1633.3,1315.0 L1635.4,1315.0 L1637.5,1315.0 L1639.6,1315.0 L1641.7,1315.0 L1643.8,1315.0 L1645.8,1315.0 L1647.9,1315.0 L1650.0,1315.0 L1652.1,1315.0 L1654.2,1315.0 L1656.2,1315.0 L1658.3,1315.0 L1660.4,1315.0 L1662.5,1315.0 L1664.6,1315.0 L1666.7,1315.0 L1668.8,1315.0 L1670.8,1315.0 L1672.9,1315.0 L1675.0,1315.0 L1677.1,1315.0 L1679.2,1315.0 L1681.2,1315.0 L1683.3,1315.0 L1685.4,1315.0 L1687.5,1315.0 L1689.6,1315.0 L1691.7,1315.0 L1693.8,1315.0 L1695.8,1315.0 L1697.9,1315.0 L1700.0,1315.0 L1702.1,1315.0 L1704.2,1315.0 L1706.2,1315.0 L1708.3,1315.0 L1710.4,1315.0 L1712.5,1315.0 L1714.6,1315.0 L1716.7,1315.0 L1718.8,1315.0 L1720.8,1315.0 L1722.9,1315.0 L1725.0,1315.0 L1727.1,1315.0 L1729.2,1315.0 L1731.2,1315.0 L1733.3,1315.0 L1735.4,1315.0 L1737.5,1315.0 L1739.6,1315.0 L1741.7,1315.0 L1743.8,1315.0 L1745.8,1315.0 L1747.9,1315.0 L1750.0,1315.0 L1752.1,1315.0 L1754.2,1315.0 L1756.2,1315.0 L1758.3,1315.0 L1760.4,1315.0 L1762.5,1315.0 L1764.6,1315.0 L1766.7,1315.0" stroke="rgb(0,128,0)" stroke-opacity="0.9" stroke-width="18"/>
<path d="M183.3,1314.7 L185.4,1314.7 L187.5,1314.7 L189.6,1314.7 L191.7,1314.6 L193.8,1314.6 L195.8,1314.6 L197.9,1314.6 L200.0,1314.5 L202.1,1314.5 L204.2,1314.5 L206.2,1314.4 L208.3,1314.4 L210.4,1314.4 L212.5,1314.3 L214.6,1314.3 L216.7,1314.3 L218.8,1314.2 L220.8,1314.2 L222.9,1314.1 L225.0,1314.1 L227.1,1314.0 L229.2,1313.9 L231.2,1313.9 L233.3,1313.8 L235.4,1313.8 L237.5,1313.7 L239.6,1313.6 L241.7,1313.5 L243.8,1313.4 L245.8,1313.4 L247.9,1313.3 L250.0,1313.2 L252.1,1313.1 L254.2,1313.0 L256.2,1312.9 L258.3,1312.7 L260.4,1312.6 L262.5,1312.5 L264.6,1312.3 L266.7,1312.2 L268.8,1312.1 L270.8,1311.9 L272.9,1311.7 L275.0,1311.6 L277.1,1311.4 L279.2,1311.2 L281.2,1311.0 L283.3,1310.8 L285.4,1310.6 L287.5,1310.4 L289.6,1310.1 L291.7,1309.9 L293.8,1309.6 L295.8,1309.3 L297.9,1309.1 L300.0,1308.8 L302.1,1308.5 L304.2,1308.1 L306.2,1307.8 L308.3,1307.4 L310.4,1307.1 L312.5,1306.7 L314.6,1306.3 L316.7,1305.9 L318.8,1305.5 L320.8,1305.0 L322.9,1304.5 L325.0,1304.0 L327.1,1303.5 L329.2,1303.0 L331.2,1302.4 L333.3,1301.9 L335.4,1301.3 L337.5,1300.6 L339.6,1300.0 L341.7,1299.3 L343.8,1298.6 L345.8,1297.9 L347.9,1297.1 L350.0,1296.4 L352.1,1295.5 L354.2,1294.7 L356.2,1293.8 L358.3,1292.9 L360.4,1292.0 L362.5,1291.0 L364.6,1290.0 L366.7,1288.9 L368.8,1287.8 L370.8,1286.7 L372.9,1285.5 L375.0,1284.3 L377.1,1283.1 L379.2,1281.8 L381.2,1280.4 L383.3,1279.1 L385.4,1277.6 L387.5,1276.1 L389.6,1274.6 L391.7,1273.0 L393.8,1271.4 L395.8,1269.7 L397.9,1268.0 L400.0,1266.2 L402.1,1264.3 L404.2,1262.4 L406.2,1260.4 L408.3,1258.4 L410.4,1256.3 L412.5,1254.2 L414.6,1251.9 L416.7,1249.7 L418.8,1247.3 L420.8,1244.9 L422.9,1242.4 L425.0,1239.8 L427.1,1237.2 L429.2,1234.5 L431.2,1231.7 L433.3,1228.8 L435.4,1225.9 L437.5,1222.8 L439.6,1219.7 L441.7,1216.6 L443.8,1213.3 L445.8,1209.9 L447.9,1206.5 L450.0,1203.0 L452.1,1199.4 L454.2,1195.7 L456.2,1191.9 L458.3,1188.0 L460.4,1184.0 L462.5,1179.9 L464.6,1175.8 L466.7,1171.5 L468.8,1167.2 L470.8,1162.7 L472.9,1158.2 L475.0,1153.5 L477.1,1148.8 L479.2,1143.9 L481.2,1139.0 L483.3,1133.9 L485.4,1128.8 L487.5,1123.5 L489.6,1118.1 L491.7,1112.7 L493.8,1107.1 L495.8,1101.4 L497.9,1095.7 L500.0,1089.8 L502.1,1083.8 L504.2,1077.7 L506.2,1071.5 L508.3,1065.2 L510.4,1058.8 L512.5,1052.3 L514.6,1045.7 L516.7,1039.0 L518.8,1032.2 L520.8,1025.2 L522.9,1018.2 L525.0,1011.1 L527.1,1003.9 L529.2,996.6 L531.2,989.2 L533.3,981.6 L535.4,974.0 L537.5,966.3 L539.6,958.6 L541.7,950.7 L543.8,942.7 L545.8,934.6 L547.9,926.5 L550.0,918.3 L552.1,910.0 L554.2,901.6 L556.2,893.1 L558.3,884.6 L560.4,876.0 L562.5,867.3 L564.6,858.6 L566.7,849.8 L568.8,840.9 L570.8,832.0 L572.9,823.0 L575.0,814.0 L577.1,804.9 L579.2,795.7 L581.2,786.6 L583.3,777.4 L585.4,768.1 L587.5,758.9 L589.6,749.6 L591.7,740.2 L593.8,730.9 L595.8,721.5 L597.9,712.1 L600.0,702.8 L602.1,693.4 L604.2,684.0 L606.2,674.6 L608.3,665.3 L610.4,655.9 L612.5,646.6 L614.6,637.3 L616.7,628.0 L618.8,618.7 L620.8,609.5 L622.9,600.4 L625.0,591.2 L627.1,582.2 L629.2,573.2 L631.2,564.2 L633.3,555.3 L635.4,546.5 L637.5,537.8 L639.6,529.1 L641.7,520.5 L643.8,512.1 L645.8,503.7 L647.9,495.4 L650.0,487.2 L652.1,479.1 L654.2,471.2 L656.2,463.4 L658.3,455.6 L660.4,448.1 L662.5,440.6 L664.6,433.3 L666.7,426.1 L668.8,419.1 L670.8,412.3 L672.9,405.6 L675.0,399.0 L677.1,392.6 L679.2,386.4 L681.2,380.4 L683.3,374.5 L685.4,368.8 L687.5,363.3 L689.6,358.0 L691.7,352.9 L693.8,348.0 L695.8,343.2 L697.9,338.7 L700.0,334.4 L702.1,330.3 L704.2,326.4 L706.2,322.7 L708.3,319.2 L710.4,315.9 L712.5,312.9 L714.6,310.1 L716.7,307.5 L718.8,305.1 L720.8,302.9 L722.9,301.0 L725.0,299.3 L727.1,297.9 L729.2,296.6 L731.2,295.6 L733.3,294.9 L735.4,294.4 L737.5,294.1 L739.6,294.0 L741.7,294.2 L743.8,294.6 L745.8,295.2 L747.9,296.1 L750.0,297.2 L752.1,298.6 L754.2,300.1 L756.2,301.9 L758.3,304.0 L760.4,306.2 L762.5,308.7 L764.6,311.4 L766.7,314.4 L768.8,317.5 L770.8,320.9 L772.9,324.5 L775.0,328.3 L777.1,332.3 L779.2,336.5 L781.2,340.9 L783.3,345.6 L785.4,350.4 L787.5,355.4 L789.6,360.6 L791.7,366.1 L793.8,371.6 L795.8,377.4 L797.9,383.4 L800.0,389.5 L802.1,395.8 L804.2,402.3 L806.2,408.9 L808.3,415.7 L810.4,422.6 L812.5,429.7 L814.6,436.9 L816.7,444.3 L818.8,451.8 L820.8,459.5 L822.9,467.3 L825.0,475.1 L827.1,483.2 L829.2,491.3 L831.2,499.5 L833.3,507.8 L835.4,516.3 L837.5,524.8 L839.6,533.4 L841.7,542.1 L843.8,550.9 L845.8,559.7 L847.9,568.7 L850.0,577.7 L852.1,586.7 L854.2,595.8 L856.2,604.9 L858.3,614.1 L860.4,623.4 L862.5,632.6 L864.6,641.9 L866.7,651.2 L868.8,660.6 L870.8,669.9 L872.9,679.3 L875.0,688.7 L877.1,698.1 L879.2,707.5 L881.2,716.8 L883.3,726.2 L885.4,735.6 L887.5,744.9 L889.6,754.2 L891.7,763.5 L893.8,772.8 L895.8,782.0 L897.9,791.2 L900.0,800.3 L902.1,809.4 L904.2,818.5 L906.2,827.5 L908.3,836.4 L910.4,845.3 L912.5,854.2 L914.6,863.0 L916.7,871.7 L918.8,880.3 L920.8,888.9 L922.9,897.4 L925.0,905.8 L927.1,914.1 L929.2,922.4 L931.2,930.6 L933.3,938.7 L935.4,946.7 L937.5,954.6 L939.6,962.5 L941.7,970.2 L943.8,977.9 L945.8,985.4 L947.9,992.9 L950.0,1000.2 L952.1,1007.5 L954.2,1014.7 L956.2,1021.7 L958.3,1028.7 L960.4,1035.6 L962.5,1042.3 L964.6,1049.0 L966.7,1055.6 L968.8,1062.0 L970.8,1068.4 L972.9,1074.6 L975.0,1080.8 L977.1,1086.8 L979.2,1092.7 L981.2,1098.6 L983.3,1104.3 L985.4,1109.9 L987.5,1115.4 L989.6,1120.8 L991.7,1126.1 L993.8,1131.3 L995.8,1136.4 L997.9,1141.4 L1000.0,1146.3 L1002.1,1151.1 L1004.2,1155.8 L1006.2,1160.4 L1008.3,1164.9 L1010.4,1169.3 L1012.5,1173.7 L1014.6,1177.9 L1016.7,1182.0 L1018.8,1186.0 L1020.8,1189.9 L1022.9,1193.8 L1025.0,1197.5 L1027.1,1201.2 L1029.2,1204.7 L1031.2,1208.2 L1033.3,1211.6 L1035.4,1214.9 L1037.5,1218.2 L1039.6,1221.3 L1041.7,1224.4 L1043.8,1227.3 L1045.8,1230.2 L1047.9,1233.1 L1050.0,1235.8 L1052.1,1238.5 L1054.2,1241.1 L1056.2,1243.6 L1058.3,1246.1 L1060.4,1248.5 L1062.5,1250.8 L1064.6,1253.1 L1066.7,1255.2 L1068.8,1257.4 L1070.8,1259.4 L1072.9,1261.4 L1075.0,1263.4 L1077.1,1265.3 L1079.2,1267.1 L1081.2,1268.9 L1083.3,1270.6 L1085.4,1272.2 L1087.5,1273.8 L1089.6,1275.4 L1091.7,1276.9 L1093.8,1278.3 L1095.8,1279.8 L1097.9,1281.1 L1100.0,1282.4 L1102.1,1283.7 L1104.2,1284.9 L1106.2,1286.1 L1108.3,1287.3 L1110.4,1288.4 L1112.5,1289.5 L1114.6,1290.5 L1116.7,1291.5 L1118.8,1292.4 L1120.8,1293.4 L1122.9,1294.3 L1125.0,1295.1 L1127.1,1296.0 L1129.2,1296.8 L1131.2,1297.5 L1133.3,1298.3 L1135.4,1299.0 L1137.5,1299.7 L1139.6,1300.3 L1141.7,1301.0 L1143.8,1301.6 L1145.8,1302.2 L1147.9,1302.7 L1150.0,1303.3 L1152.1,1303.8 L1154.2,1304.3 L1156.2,1304.8 L1158.3,1305.2 L1160.4,1305.7 L1162.5,1306.1 L1164.6,1306.5 L1166.7,1306.9 L1168.8,1307.3 L1170.8,1307.6 L1172.9,1308.0 L1175.0,1308.3 L1177.1,1308.6 L1179.2,1308.9 L1181.2,1309.2 L1183.3,1309.5 L1185.4,1309.7 L1187.5,1310.0 L1189.6,1310.2 L1191.7,1310.5 L1193.8,1310.7 L1195.8,1310.9 L1197.9,1311.1 L1200.0,1311.3 L1202.1,1311.5 L1204.2,1311.7 L1206.2,1311.8 L1208.3,1312.0 L1210.4,1312.1 L1212.5,1312.3 L1214.6,1312.4 L1216.7,1312.6 L1218.8,1312.7 L1220.8,1312.8 L1222.9,1312.9 L1225.0,1313.0 L1227.1,1313.1 L1229.2,1313.2 L1231.2,1313.3 L1233.3,1313.4 L1235.4,1313.5 L1237.5,1313.6 L1239.6,1313.6 L1241.7,1313.7 L1243.8,1313.8 L1245.8,1313.9 L1247.9,1313.9 L1250.0,1314.0 L1252.1,1314.0 L1254.2,1314.1 L1256.2,1314.1 L1258.3,1314.2 L1260.4,1314.2 L1262.5,1314.3 L1264.6,1314.3 L1266.7,1314.4 L1268.8,1314.4 L1270.8,1314.4 L1272.9,1314.5 L1275.0,1314.5 L1277.1,1314.5 L1279.2,1314.5 L1281.2,1314.6 L1283.3,1314.6 L1285.4,1314.6 L1287.5,1314.6 L1289.6,1314.7 L1291.7,1314.7 L1293.8,1314.7 L1295.8,1314.7 L1297.9,1314.7 L1300.0,1314.8 L1302.1,1314.8 L1304.2,1314.8 L1306.2,1314.8 L1308.3,1314.8 L1310.4,1314.8 L1312.5,1314.8 L1314.6,1314.8 L1316.7,1314.8 L1318.8,1314.9 L1320.8,1314.9 L1322.9,1314.9 L1325.0,1314.9 L1327.1,1314.9 L1329.2,1314.9 L1331.2,1314.9 L1333.3,1314.9 L1335.4,1314.9 L1337.5,1314.9 L1339.6,1314.9 L1341.7,1314.9 L1343.8,1314.9 L1345.8,1314.9 L1347.9,1314.9 L1350.0,1314.9 L1352.1,1315.0 L1354.2,1315.0 L1356.2,1315.0 L1358.3,1315.0 L1360.4,1315.0 L1362.5,1315.0 L1364.6,1315.0 L1366.7,1315.0 L1368.8,1315.0 L1370.8,1315.0 L1372.9,1315.0 L1375.0,1315.0 L1377.1,1315.0 L1379.2,1315.0 L1381.2,1315.0 L1383.3,1315.0 L1385.4,1315.0 L1387.5,1315.0 L1389.6,1315.0 L1391.7,1315.0 L1393.8,1315.0 L1395.8,1315.0 L1397.9,1315.0 L1400.0,1315.0 L1402.1,1315.0 L1404.2,1315.0 L1406.2,1315.0 L1408.3,1315.0 L1410.4,1315.0 L1412.5,1315.0 L1414.6,1315.0 L1416.7,1315.0 L1418.8,1315.0 L1420.8,1315.0 L1422.9,1315.0 L1425.0,1315.0 L1427.1,1315.0 L1429.2,1315.0 L1431.2,1315.0 L1433.3,1315.0 L1435.4,1315.0 L1437.5,1315.0 L1439.6,1315.0 L1441.7,1315.0 L1443.8,1315.0 L1445.8,1315.0 L1447.9,1315.0 L1450.0,1315.0 L1452.1,1315.0 L1454.2,1315.0 L1456.2,1315.0 L1458.3,1315.0 L1460.4,1315.0 L1462.5,1315.0 L1464.6,1315.0 L1466.7,1315.0 L1468.8,1315.0 L1470.8,1315.0 L1472.9,1315.0 L1475.0,1315.0 L1477.1,1315.0 L1479.2,1315.0 L1481.2,1315.0 L1483.3,1315.0 L1485.4,1315.0 L1487.5,1315.0 L1489.6,1315.0 L1491.7,1315.0 L1493.8,1315.0 L1495.8,1315.0 L1497.9,1315.0 L1500.0,1315.0 L1502.1,1315.0 L1504.2,1315.0 L1506.2,1315.0 L1508.3,1315.0 L1510.4,1315.0 L1512.5,1315.0 L1514.6,1315.0 L1516.7,1315.0 L1518.8,1315.0 L1520.8,1315.0 L1522.9,1315.0 L1525.0,1315.0 L1527.1,1315.0 L1529.2,1315.0 L1531.2,1315.0 L1533.3,1315.0 L1535.4,1315.0 L1537.5,1315.0 L1539.6,1315.0 L1541.7,1315.0 L1543.8,1315.0 L1545.8,1315.0 L1547.9,1315.0 L1550.0,1315.0 L1552.1,1315.0 L1554.2,1315.0 L1556.2,1315.0 L1558.3,1315.0 L1560.4,1315.0 L1562.5,1315.0 L1564.6,1315.0 L1566.7,1315.0 L1568.8,1315.0 L1570.8,1315.0 L1572.9,1315.0 L1575.0,1315.0 L1577.1,1315.0 L1579.2,1315.0 L1581.2,1315.0 L1583.3,1315.0 L1585.4,1315.0 L1587.5,1315.0 L1589.6,1315.0 L1591.7,1315.0 L1593.8,1315.0 L1595.8,1315.0 L1597.9,1315.0 L1600.0,1315.0 L1602.1,1315.0 L1604.2,1315.0 L1606.2,1315.0 L1608.3,1315.0 L1610.4,1315.0 L1612.5,1315.0 L1614.6,1315.0 L1616.7,1315.0 L1618.8,1315.0 L1620.8,1315.0 L1622.9,1315.0 L1625.0,1315.0 L1627.1,1315.0 L1629.2,1315.0 L1631.2,1315.0 L1633.3,1315.0 L1635.4,1315.0 L1637.5,1315.0 L1639.6,1315.0 L1641.7,1315.0 L1643.8,1315.0 L1645.8,1315.0 L1647.9,1315.0 L1650.0,1315.0 L1652.1,1315.0 L1654.2,1315.0 L1656.2,1315.0 L1658.3,1315.0 L1660.4,1315.0 L1662.5,1315.0 L1664.6,1315.0 L1666.7,1315.0 L1668.8,1315.0 L1670.8,1315.0 L1672.9,1315.0 L1675.0,1315.0 L1677.1,1315.0 L1679.2,1315.0 L1681.2,1315.0 L1683.3,1315.0 L1685.4,1315.0 L1687.5,1315.0 L1689.6,1315.0 L1691.7,1315.0 L1693.8,1315.0 L1695.8,1315.0 L1697.9,1315.0 L1700.0,1315.0 L1702.1,1315.0 L1704.2,1315.0 L1706.2,1315.0 L1708.3,1315.0 L1710.4,1315.0 L1712.5,1315.0 L1714.6,1315.0 L1716.7,1315.0 L1718.8,1315.0 L1720.8,1315.0 L1722.9,1315.0 L1725.0,1315.0 L1727.1,1315.0 L1729.2,1315.0 L1731.2,1315.0 L1733.3,1315.0 L1735.4,1315.0 L1737.5,1315.0 L1739.6,1315.0 L1741.7,1315.0 L1743.8,1315.0 L1745.8,1315.0 L1747.9,1315.0 L1750.0,1315.0 L1752.1,1315.0 L1754.2,1315.0 L1756.2,1315.0 L1758.3,1315.0 L1760.4,1315.0 L1762.5,1315.0 L1764.6,1315.0 L1766.7,1315.0" stroke="rgb(0,0,255)" stroke-opacity="0.8" stroke-width="18"/>
<path d="M183.3,1314.7 L184.4,1314.7 L185.4,1314.7 L186.5,1314.7 L187.5,1314.6 L188.5,1314.6 L189.6,1314.6 L190.6,1314.6 L191.7,1314.6 L192.7,1314.6 L193.8,1314.6 L194.8,1314.6 L195.8,1314.5 L196.9,1314.5 L197.9,1314.5 L199.0,1314.5 L200.0,1314.5 L201.0,1314.5 L202.1,1314.4 L203.1,1314.4 L204.2,1314.4 L205.2,1314.4 L206.2,1314.4 L207.3,1314.4 L208.3,1314.3 L209.4,1314.3 L210.4,1314.3 L211.5,1314.3 L212.5,1314.2 L213.5,1314.2 L214.6,1314.2 L215.6,1314.2 L216.7,1314.2 L217.7,1314.1 L218.8,1314.1 L219.8,1314.1 L220.8,1314.0 L221.9,1314.0 L222.9,1314.0 L224.0,1313.9 L225.0,1313.9 L226.0,1313.9 L227.1,1313.8 L228.1,1313.8 L229.2,1313.8 L230.2,1313.7 L231.2,1313.7 L232.3,1313.7 L233.3,1313.6 L234.4,1313.6 L235.4,1313.5 L236.5,1313.5 L237.5,1313.4 L238.5,1313.4 L239.6,1313.3 L240.6,1313.3 L241.7,1313.2 L242.7,1313.2 L243.8,1313.1 L244.8,1313.1 L245.8,1313.0 L246.9,1313.0 L247.9,1312.9 L249.0,1312.8 L250.0,1312.8 L251.0,1312.7 L252.1,1312.6 L253.1,1312.6 L254.2,1312.5 L255.2,1312.4 L256.2,1312.3 L257.3,1312.3 L258.3,1312.2 L259.4,1312.1 L260.4,1312.0 L261.5,1311.9 L262.5,1311.8 L263.5,1311.7 L264.6,1311.6 L265.6,1311.5 L266.7,1311.4 L267.7,1311.3 L268.8,1311.2 L269.8,1311.1 L270.8,1311.0 L271.9,1310.9 L272.9,1310.7 L274.0,1310.6 L275.0,1310.5 L276.0,1310.3 L277.1,1310.2 L278.1,1310.1 L279.2,1309.9 L280.2,1309.8 L281.2,1309.6 L282.3,1309.4 L283.3,1309.3 L284.4,1309.1 L285.4,1308.9 L286.5,1308.7 L287.5,1308.6 L288.5,1308.4 L289.6,1308.2 L290.6,1308.0 L291.7,1307.7 L292.7,1307.5 L293.8,1307.3 L294.8,1307.1 L295.8,1306.8 L296.9,1306.6 L297.9,1306.3 L299.0,1306.1 L300.0,1305.8 L301.0,1305.5 L302.1,1305.2 L303.1,1304.9 L304.2,1304.6 L305.2,1304.3 L306.2,1304.0 L307.3,1303.6 L308.3,1303.3 L309.4,1302.9 L310.4,1302.6 L311.5,1302.2 L312.5,1301.8 L313.5,1301.4 L314.6,1301.0 L315.6,1300.6 L316.7,1300.1 L317.7,1299.7 L318.8,1299.2 L319.8,1298.7 L320.8,1298.2 L321.9,1297.7 L322.9,1297.1 L324.0,1296.6 L325.0,1296.0 L326.0,1295.4 L327.1,1294.8 L328.1,1294.2 L329.2,1293.6 L330.2,1292.9 L331.2,1292.2 L332.3,1291.5 L333.3,1290.8 L334.4,1290.0 L335.4,1289.3 L336.5,1288.5 L337.5,1287.7 L338.5,1286.8 L339.6,1286.0 L340.6,1285.1 L341.7,1284.2 L342.7,1283.2 L343.8,1282.2 L344.8,1281.2 L345.8,1280.2 L346.9,1279.2 L347.9,1278.1 L349.0,1277.0 L350.0,1275.8 L351.0,1274.7 L352.1,1273.5 L353.1,1272.2 L354.2,1271.0 L355.2,1269.7 L356.2,1268.4 L357.3,1267.0 L358.3,1265.6 L359.4,1264.2 L360.4,1262.7 L361.5,1261.2 L362.5,1259.7 L363.5,1258.1 L364.6,1256.5 L365.6,1254.9 L366.7,1253.3 L367.7,1251.6 L368.8,1249.8 L369.8,1248.1 L370.8,1246.3 L371.9,1244.4 L372.9,1242.6 L374.0,1240.6 L375.0,1238.7 L376.0,1236.7 L377.1,1234.7 L378.1,1232.7 L379.2,1230.6 L380.2,1228.5 L381.2,1226.4 L382.3,1224.3 L383.3,1222.1 L384.4,1219.8 L385.4,1217.6 L386.5,1215.3 L387.5,1213.0 L388.5,1210.7 L389.6,1208.3 L390.6,1205.9 L391.7,1203.5 L392.7,1201.1 L393.8,1198.7 L394.8,1196.2 L395.8,1193.7 L396.9,1191.2 L397.9,1188.7 L399.0,1186.1 L400.0,1183.6 L401.0,1181.0 L402.1,1178.4 L403.1,1175.8 L404.2,1173.2 L405.2,1170.6 L406.2,1167.9 L407.3,1165.3 L408.3,1162.6 L409.4,1160.0 L410.4,1157.3 L411.5,1154.6 L412.5,1152.0 L413.5,1149.3 L414.6,1146.6 L415.6,1143.9 L416.7,1141.3 L417.7,1138.6 L418.8,1135.9 L419.8,1133.2 L420.8,1130.6 L421.9,1127.9 L422.9,1125.2 L424.0,1122.6 L425.0,1119.9 L426.0,1117.3 L427.1,1114.6 L428.1,1112.0 L429.2,1109.4 L430.2,1106.7 L431.2,1104.1 L432.3,1101.5 L433.3,1098.9 L434.4,1096.3 L435.4,1093.7 L436.5,1091.1 L437.5,1088.5 L438.5,1085.9 L439.6,1083.4 L440.6,1080.8 L441.7,1078.2 L442.7,1075.6 L443.8,1073.0 L444.8,1070.5 L445.8,1067.9 L446.9,1065.3 L447.9,1062.7 L449.0,1060.1 L450.0,1057.5 L451.0,1054.9 L452.1,1052.3 L453.1,1049.7 L454.2,1047.1 L455.2,1044.5 L456.2,1041.8 L457.3,1039.2 L458.3,1036.5 L459.4,1033.8 L460.4,1031.2 L461.5,1028.4 L462.5,1025.7 L463.5,1023.0 L464.6,1020.2 L465.6,1017.4 L466.7,1014.6 L467.7,1011.8 L468.8,1009.0 L469.8,1006.1 L470.8,1003.2 L471.9,1000.3 L472.9,997.3 L474.0,994.3 L475.0,991.3 L476.0,988.3 L477.1,985.2 L478.1,982.1 L479.2,979.0 L480.2,975.8 L481.2,972.6 L482.3,969.4 L483.3,966.1 L484.4,962.8 L485.4,959.5 L486.5,956.1 L487.5,952.7 L488.5,949.2 L489.6,945.7 L490.6,942.2 L491.7,938.6 L492.7,935.0 L493.8,931.3 L494.8,927.7 L495.8,923.9 L496.9,920.2 L497.9,916.4 L499.0,912.5 L500.0,908.6 L501.0,904.7 L502.1,900.8 L503.1,896.8 L504.2,892.7 L505.2,888.7 L506.2,884.6 L507.3,880.4 L508.3,876.2 L509.4,872.0 L510.4,867.8 L511.5,863.5 L512.5,859.2 L513.5,854.8 L514.6,850.5 L515.6,846.1 L516.7,841.6 L517.7,837.2 L518.8,832.7 L519.8,828.1 L520.8,823.6 L521.9,819.0 L522.9,814.4 L524.0,809.8 L525.0,805.1 L526.0,800.4 L527.1,795.7 L528.1,791.0 L529.2,786.3 L530.2,781.5 L531.2,776.8 L532.3,772.0 L533.3,767.2 L534.4,762.3 L535.4,757.5 L536.5,752.6 L537.5,747.8 L538.5,742.9 L539.6,738.0 L540.6,733.1 L541.7,728.2 L542.7,723.3 L543.8,718.4 L544.8,713.4 L545.8,708.5 L546.9,703.6 L547.9,698.6 L549.0,693.7 L550.0,688.7 L551.0,683.8 L552.1,678.8 L553.1,673.9 L554.2,668.9 L555.2,664.0 L556.2,659.1 L557.3,654.1 L558.3,649.2 L559.4,644.3 L560.4,639.4 L561.5,634.5 L562.5,629.6 L563.5,624.7 L564.6,619.8 L565.6,614.9 L566.7,610.0 L567.7,605.2 L568.8,600.4 L569.8,595.5 L570.8,590.7 L571.9,585.9 L572.9,581.1 L574.0,576.4 L575.0,571.6 L576.0,566.9 L577.1,562.2 L578.1,557.5 L579.2,552.8 L580.2,548.1 L581.2,543.5 L582.3,538.8 L583.3,534.2 L584.4,529.7 L585.4,525.1 L586.5,520.5 L587.5,516.0 L588.5,511.5 L589.6,507.0 L590.6,502.6 L591.7,498.1 L592.7,493.7 L593.8,489.3 L594.8,484.9 L595.8,480.6 L596.9,476.3 L597.9,472.0 L599.0,467.7 L600.0,463.4 L601.0,459.2 L602.1,455.0 L603.1,450.8 L604.2,446.7 L605.2,442.6 L606.2,438.5 L607.3,434.4 L608.3,430.4 L609.4,426.4 L610.4,422.4 L611.5,418.5 L612.5,414.6 L613.5,410.7 L614.6,406.8 L615.6,403.0 L616.7,399.2 L617.7,395.4 L618.8,391.7 L619.8,388.0 L620.8,384.3 L621.9,380.7 L622.9,377.1 L624.0,373.5 L625.0,370.0 L626.0,366.5 L627.1,363.0 L628.1,359.6 L629.2,356.2 L630.2,352.9 L631.2,349.5 L632.3,346.2 L633.3,343.0 L634.4,339.8 L635.4,336.6 L636.5,333.4 L637.5,330.3 L638.5,327.2 L639.6,324.2 L640.6,321.2 L641.7,318.2 L642.7,315.3 L643.8,312.4 L644.8,309.6 L645.8,306.7 L646.9,304.0 L647.9,301.2 L649.0,298.5 L650.0,295.9 L651.0,293.2 L652.1,290.7 L653.1,288.1 L654.2,285.6 L655.2,283.2 L656.2,280.7 L657.3,278.4 L658.3,276.0 L659.4,273.7 L660.4,271.5 L661.5,269.2 L662.5,267.1 L663.5,264.9 L664.6,262.8 L665.6,260.8 L666.7,258.8 L667.7,256.8 L668.8,254.9 L669.8,253.0 L670.8,251.1 L671.9,249.3 L672.9,247.6 L674.0,245.9 L675.0,244.2 L676.0,242.6 L677.1,241.0 L678.1,239.4 L679.2,237.9 L680.2,236.5 L681.2,235.0 L682.3,233.7 L683.3,232.3 L684.4,231.1 L685.4,229.8 L686.5,228.6 L687.5,227.5 L688.5,226.4 L689.6,225.3 L690.6,224.3 L691.7,223.3 L692.7,222.4 L693.8,221.5 L694.8,220.7 L695.8,219.9 L696.9,219.1 L697.9,218.4 L699.0,217.8 L700.0,217.2 L701.0,216.6 L702.1,216.1 L703.1,215.6 L704.2,215.2 L705.2,214.8 L706.2,214.5 L707.3,214.2 L708.3,213.9 L709.4,213.7 L710.4,213.6 L711.5,213.5 L712.5,213.4 L713.5,213.4 L714.6,213.4 L715.6,213.5 L716.7,213.6 L717.7,213.8 L718.8,214.0 L719.8,214.3 L720.8,214.6 L721.9,215.0 L722.9,215.4 L724.0,215.8 L725.0,216.3 L726.0,216.9 L727.1,217.4 L728.1,218.1 L729.2,218.8 L730.2,219.5 L731.2,220.3 L732.3,221.1 L733.3,222.0 L734.4,222.9 L735.4,223.9 L736.5,224.9 L737.5,225.9 L738.5,227.0 L739.6,228.2 L740.6,229.4 L741.7,230.6 L742.7,231.9 L743.8,233.2 L744.8,234.6 L745.8,236.0 L746.9,237.5 L747.9,239.0 L749.0,240.6 L750.0,242.2 L751.0,243.9 L752.1,245.6 L753.1,247.3 L754.2,249.1 L755.2,250.9 L756.2,252.8 L757.3,254.8 L758.3,256.7 L759.4,258.7 L760.4,260.8 L761.5,262.9 L762.5,265.0 L763.5,267.2 L764.6,269.5 L765.6,271.8 L766.7,274.1 L767.7,276.4 L768.8,278.8 L769.8,281.3 L770.8,283.8 L771.9,286.3 L772.9,288.9 L774.0,291.5 L775.0,294.2 L776.0,296.9 L777.1,299.6 L778.1,302.4 L779.2,305.2 L780.2,308.1 L781.2,311.0 L782.3,313.9 L783.3,316.9 L784.4,319.9 L785.4,323.0 L786.5,326.1 L787.5,329.2 L788.5,332.4 L789.6,335.6 L790.6,338.9 L791.7,342.2 L792.7,345.5 L793.8,348.8 L794.8,352.2 L795.8,355.7 L796.9,359.1 L797.9,362.6 L799.0,366.2 L800.0,369.7 L801.0,373.3 L802.1,377.0 L803.1,380.6 L804.2,384.3 L805.2,388.0 L806.2,391.8 L807.3,395.6 L808.3,399.4 L809.4,403.3 L810.4,407.2 L811.5,411.1 L812.5,415.0 L813.5,419.0 L814.6,423.0 L815.6,427.0 L816.7,431.1 L817.7,435.1 L818.8,439.3 L819.8,443.4 L820.8,447.5 L821.9,451.7 L822.9,455.9 L824.0,460.2 L825.0,464.4 L826.0,468.7 L827.1,473.0 L828.1,477.3 L829.2,481.7 L830.2,486.0 L831.2,490.4 L832.3,494.8 L833.3,499.2 L834.4,503.7 L835.4,508.1 L836.5,512.6 L837.5,517.1 L838.5,521.6 L839.6,526.1 L840.6,530.7 L841.7,535.2 L842.7,539.8 L843.8,544.4 L844.8,549.0 L845.8,553.6 L846.9,558.2 L847.9,562.9 L849.0,567.5 L850.0,572.2 L851.0,576.9 L852.1,581.6 L853.1,586.3 L854.2,591.0 L855.2,595.7 L856.2,600.4 L857.3,605.1 L858.3,609.8 L859.4,614.6 L860.4,619.3 L861.5,624.1 L862.5,628.8 L863.5,633.6 L864.6,638.4 L865.6,643.1 L866.7,647.9 L867.7,652.7 L868.8,657.4 L869.8,662.2 L870.8,667.0 L871.9,671.8 L872.9,676.6 L874.0,681.3 L875.0,686.1 L876.0,690.9 L877.1,695.7 L878.1,700.4 L879.2,705.2 L880.2,710.0 L881.2,714.7 L882.3,719.5 L883.3,724.2 L884.4,729.0 L885.4,733.7 L886.5,738.4 L887.5,743.2 L888.5,747.9 L889.6,752.6 L890.6,757.3 L891.7,762.0 L892.7,766.7 L893.8,771.3 L894.8,776.0 L895.8,780.7 L896.9,785.3 L897.9,789.9 L899.0,794.6 L900.0,799.2 L901.0,803.8 L902.1,808.3 L903.1,812.9 L904.2,817.5 L905.2,822.0 L906.2,826.6 L907.3,831.1 L908.3,835.6 L909.4,840.1 L910.4,844.5 L911.5,849.0 L912.5,853.4 L913.5,857.8 L914.6,862.3 L915.6,866.6 L916.7,871.0 L917.7,875.4 L918.8,879.7 L919.8,884.0 L920.8,888.3 L921.9,892.6 L922.9,896.9 L924.0,901.1 L925.0,905.3 L926.0,909.5 L927.1,913.7 L928.1,917.9 L929.2,922.0 L930.2,926.1 L931.2,930.2 L932.3,934.3 L933.3,938.3 L934.4,942.4 L935.4,946.4 L936.5,950.4 L937.5,954.3 L938.5,958.3 L939.6,962.2 L940.6,966.1 L941.7,969.9 L942.7,973.8 L943.8,977.6 L944.8,981.4 L945.8,985.2 L946.9,988.9 L947.9,992.7 L949.0,996.4 L950.0,1000.1 L951.0,1003.7 L952.1,1007.3 L953.1,1010.9 L954.2,1014.5 L955.2,1018.1 L956.2,1021.6 L957.3,1025.1 L958.3,1028.6 L959.4,1032.0 L960.4,1035.5 L961.5,1038.9 L962.5,1042.2 L963.5,1045.6 L964.6,1048.9 L965.6,1052.2 L966.7,1055.5 L967.7,1058.7 L968.8,1061.9 L969.8,1065.1 L970.8,1068.3 L971.9,1071.4 L972.9,1074.5 L974.0,1077.6 L975.0,1080.7 L976.0,1083.7 L977.1,1086.7 L978.1,1089.7 L979.2,1092.7 L980.2,1095.6 L981.2,1098.5 L982.3,1101.4 L983.3,1104.2 L984.4,1107.1 L985.4,1109.9 L986.5,1112.6 L987.5,1115.4 L988.5,1118.1 L989.6,1120.8 L990.6,1123.5 L991.7,1126.1 L992.7,1128.7 L993.8,1131.3 L994.8,1133.9 L995.8,1136.4 L996.9,1138.9 L997.9,1141.4 L999.0,1143.9 L1000.0,1146.3 L1001.0,1148.7 L1002.1,1151.1 L1003.1,1153.5 L1004.2,1155.8 L1005.2,1158.1 L1006.2,1160.4 L1007.3,1162.7 L1008.3,1164.9 L1009.4,1167.1 L1010.4,1169.3 L1011.5,1171.5 L1012.5,1173.6 L1013.5,1175.8 L1014.6,1177.9 L1015.6,1179.9 L1016.7,1182.0 L1017.7,1184.0 L1018.8,1186.0 L1019.8,1188.0 L1020.8,1189.9 L1021.9,1191.9 L1022.9,1193.8 L1024.0,1195.6 L1025.0,1197.5 L1026.0,1199.4 L1027.1,1201.2 L1028.1,1203.0 L1029.2,1204.7 L1030.2,1206.5 L1031.2,1208.2 L1032.3,1209.9 L1033.3,1211.6 L1034.4,1213.3 L1035.4,1214.9 L1036.5,1216.5 L1037.5,1218.2 L1038.5,1219.7 L1039.6,1221.3 L1040.6,1222.8 L1041.7,1224.4 L1042.7,1225.9 L1043.8,1227.3 L1044.8,1228.8 L1045.8,1230.2 L1046.9,1231.7 L1047.9,1233.1 L1049.0,1234.5 L1050.0,1235.8 L1051.0,1237.2 L1052.1,1238.5 L1053.1,1239.8 L1054.2,1241.1 L1055.2,1242.4 L1056.2,1243.6 L1057.3,1244.9 L1058.3,1246.1 L1059.4,1247.3 L1060.4,1248.5 L1061.5,1249.7 L1062.5,1250.8 L1063.5,1251.9 L1064.6,1253.1 L1065.6,1254.2 L1066.7,1255.2 L1067.7,1256.3 L1068.8,1257.4 L1069.8,1258.4 L1070.8,1259.4 L1071.9,1260.4 L1072.9,1261.4 L1074.0,1262.4 L1075.0,1263.4 L1076.0,1264.3 L1077.1,1265.3 L1078.1,1266.2 L1079.2,1267.1 L1080.2,1268.0 L1081.2,1268.9 L1082.3,1269.7 L1083.3,1270.6 L1084.4,1271.4 L1085.4,1272.2 L1086.5,1273.0 L1087.5,1273.8 L1088.5,1274.6 L1089.6,1275.4 L1090.6,1276.1 L1091.7,1276.9 L1092.7,1277.6 L1093.8,1278.3 L1094.8,1279.1 L1095.8,1279.8 L1096.9,1280.4 L1097.9,1281.1 L1099.0,1281.8 L1100.0,1282.4 L1101.0,1283.1 L1102.1,1283.7 L1103.1,1284.3 L1104.2,1284.9 L1105.2,1285.5 L1106.2,1286.1 L1107.3,1286.7 L1108.3,1287.3 L1109.4,1287.8 L1110.4,1288.4 L1111.5,1288.9 L1112.5,1289.5 L1113.5,1290.0 L1114.6,1290.5 L1115.6,1291.0 L1116.7,1291.5 L1117.7,1292.0 L1118.8,1292.4 L1119.8,1292.9 L1120.8,1293.4 L1121.9,1293.8 L1122.9,1294.3 L1124.0,1294.7 L1125.0,1295.1 L1126.0,1295.5 L1127.1,1296.0 L1128.1,1296.4 L1129.2,1296.8 L1130.2,1297.1 L1131.2,1297.5 L1132.3,1297.9 L1133.3,1298.3 L1134.4,1298.6 L1135.4,1299.0 L1136.5,1299.3 L1137.5,1299.7 L1138.5,1300.0 L1139.6,1300.3 L1140.6,1300.6 L1141.7,1301.0 L1142.7,1301.3 L1143.8,1301.6 L1144.8,1301.9 L1145.8,1302.2 L1146.9,1302.4 L1147.9,1302.7 L1149.0,1303.0 L1150.0,1303.3 L1151.0,1303.5 L1152.1,1303.8 L1153.1,1304.0 L1154.2,1304.3 L1155.2,1304.5 L1156.2,1304.8 L1157.3,1305.0 L1158.3,1305.2 L1159.4,1305.5 L1160.4,1305.7 L1161.5,1305.9 L1162.5,1306.1 L1163.5,1306.3 L1164.6,1306.5 L1165.6,1306.7 L1166.7,1306.9 L1167.7,1307.1 L1168.8,1307.3 L1169.8,1307.4 L1170.8,1307.6 L1171.9,1307.8 L1172.9,1308.0 L1174.0,1308.1 L1175.0,1308.3 L1176.0,1308.5 L1177.1,1308.6 L1178.1,1308.8 L1179.2,1308.9 L1180.2,1309.1 L1181.2,1309.2 L1182.3,1309.3 L1183.3,1309.5 L1184.4,1309.6 L1185.4,1309.7 L1186.5,1309.9 L1187.5,1310.0 L1188.5,1310.1 L1189.6,1310.2 L1190.6,1310.4 L1191.7,1310.5 L1192.7,1310.6 L1193.8,1310.7 L1194.8,1310.8 L1195.8,1310.9 L1196.9,1311.0 L1197.9,1311.1 L1199.0,1311.2 L1200.0,1311.3 L1201.0,1311.4 L1202.1,1311.5 L1203.1,1311.6 L1204.2,1311.7 L1205.2,1311.7 L1206.2,1311.8 L1207.3,1311.9 L1208.3,1312.0 L1209.4,1312.1 L1210.4,1312.1 L1211.5,1312.2 L1212.5,1312.3 L1213.5,1312.3 L1214.6,1312.4 L1215.6,1312.5 L1216.7,1312.6 L1217.7,1312.6 L1218.8,1312.7 L1219.8,1312.7 L1220.8,1312.8 L1221.9,1312.9 L1222.9,1312.9 L1224.0,1313.0 L1225.0,1313.0 L1226.0,1313.1 L1227.1,1313.1 L1228.1,1313.2 L1229.2,1313.2 L1230.2,1313.3 L1231.2,1313.3 L1232.3,1313.4 L1233.3,1313.4 L1234.4,1313.4 L1235.4,1313.5 L1236.5,1313.5 L1237.5,1313.6 L1238.5,1313.6 L1239.6,1313.6 L1240.6,1313.7 L1241.7,1313.7 L1242.7,1313.8 L1243.8,1313.8 L1244.8,1313.8 L1245.8,1313.9 L1246.9,1313.9 L1247.9,1313.9 L1249.0,1313.9 L1250.0,1314.0 L1251.0,1314.0 L1252.1,1314.0 L1253.1,1314.1 L1254.2,1314.1 L1255.2,1314.1 L1256.2,1314.1 L1257.3,1314.2 L1258.3,1314.2 L1259.4,1314.2 L1260.4,1314.2 L1261.5,1314.3 L1262.5,1314.3 L1263.5,1314.3 L1264.6,1314.3 L1265.6,1314.3 L1266.7,1314.4 L1267.7,1314.4 L1268.8,1314.4 L1269.8,1314.4 L1270.8,1314.4 L1271.9,1314.4 L1272.9,1314.5 L1274.0,1314.5 L1275.0,1314.5 L1276.0,1314.5 L1277.1,1314.5 L1278.1,1314.5 L1279.2,1314.5 L1280.2,1314.6 L1281.2,1314.6 L1282.3,1314.6 L1283.3,1314.6 L1284.4,1314.6 L1285.4,1314.6 L1286.5,1314.6 L1287.5,1314.6 L1288.5,1314.7 L1289.6,1314.7 L1290.6,1314.7 L1291.7,1314.7 L1292.7,1314.7 L1293.8,1314.7 L1294.8,1314.7 L1295.8,1314.7 L1296.9,1314.7 L1297.9,1314.7 L1299.0,1314.7 L1300.0,1314.8 L1301.0,1314.8 L1302.1,1314.8 L1303.1,1314.8 L1304.2,1314.8 L1305.2,1314.8 L1306.2,1314.8 L1307.3,1314.8 L1308.3,1314.8 L1309.4,1314.8 L1310.4,1314.8 L1311.5,1314.8 L1312.5,1314.8 L1313.5,1314.8 L1314.6,1314.8 L1315.6,1314.8 L1316.7,1314.8 L1317.7,1314.9 L1318.8,1314.9 L1319.8,1314.9 L1320.8,1314.9 L1321.9,1314.9 L1322.9,1314.9 L1324.0,1314.9 L1325.0,1314.9 L1326.0,1314.9 L1327.1,1314.9 L1328.1,1314.9 L1329.2,1314.9 L1330.2,1314.9 L1331.2,1314.9 L1332.3,1314.9 L1333.3,1314.9 L1334.4,1314.9 L1335.4,1314.9 L1336.5,1314.9 L1337.5,1314.9 L1338.5,1314.9 L1339.6,1314.9 L1340.6,1314.9 L1341.7,1314.9 L1342.7,1314.9 L1343.8,1314.9 L1344.8,1314.9 L1345.8,1314.9 L1346.9,1314.9 L1347.9,1314.9 L1349.0,1314.9 L1350.0,1314.9 L1351.0,1314.9 L1352.1,1315.0 L1353.1,1315.0 L1354.2,1315.0 L1355.2,1315.0 L1356.2,1315.0 L1357.3,1315.0 L1358.3,1315.0 L1359.4,1315.0 L1360.4,1315.0 L1361.5,1315.0 L1362.5,1315.0 L1363.5,1315.0 L1364.6,1315.0 L1365.6,1315.0 L1366.7,1315.0 L1367.7,1315.0 L1368.8,1315.0 L1369.8,1315.0 L1370.8,1315.0 L1371.9,1315.0 L1372.9,1315.0 L1374.0,1315.0 L1375.0,1315.0 L1376.0,1315.0 L1377.1,1315.0 L1378.1,1315.0 L1379.2,1315.0 L1380.2,1315.0 L1381.2,1315.0 L1382.3,1315.0 L1383.3,1315.0 L1384.4,1315.0 L1385.4,1315.0 L1386.5,1315.0 L1387.5,1315.0 L1388.5,1315.0 L1389.6,1315.0 L1390.6,1315.0 L1391.7,1315.0 L1392.7,1315.0 L1393.8,1315.0 L1394.8,1315.0 L1395.8,1315.0 L1396.9,1315.0 L1397.9,1315.0 L1399.0,1315.0 L1400.0,1315.0 L1401.0,1315.0 L1402.1,1315.0 L1403.1,1315.0 L1404.2,1315.0 L1405.2,1315.0 L1406.2,1315.0 L1407.3,1315.0 L1408.3,1315.0 L1409.4,1315.0 L1410.4,1315.0 L1411.5,1315.0 L1412.5,1315.0 L1413.5,1315.0 L1414.6,1315.0 L1415.6,1315.0 L1416.7,1315.0 L1417.7,1315.0 L1418.8,1315.0 L1419.8,1315.0 L1420.8,1315.0 L1421.9,1315.0 L1422.9,1315.0 L1424.0,1315.0 L1425.0,1315.0 L1426.0,1315.0 L1427.1,1315.0 L1428.1,1315.0 L1429.2,1315.0 L1430.2,1315.0 L1431.2,1315.0 L1432.3,1315.0 L1433.3,1315.0 L1434.4,1315.0 L1435.4,1315.0 L1436.5,1315.0 L1437.5,1315.0 L1438.5,1315.0 L1439.6,1315.0 L1440.6,1315.0 L1441.7,1315.0 L1442.7,1315.0 L1443.8,1315.0 L1444.8,1315.0 L1445.8,1315.0 L1446.9,1315.0 L1447.9,1315.0 L1449.0,1315.0 L1450.0,1315.0 L1451.0,1315.0 L1452.1,1315.0 L1453.1,1315.0 L1454.2,1315.0 L1455.2,1315.0 L1456.2,1315.0 L1457.3,1315.0 L1458.3,1315.0 L1459.4,1315.0 L1460.4,1315.0 L1461.5,1315.0 L1462.5,1315.0 L1463.5,1315.0 L1464.6,1315.0 L1465.6,1315.0 L1466.7,1315.0 L1467.7,1315.0 L1468.8,1315.0 L1469.8,1315.0 L1470.8,1315.0 L1471.9,1315.0 L1472.9,1315.0 L1474.0,1315.0 L1475.0,1315.0 L1476.0,1315.0 L1477.1,1315.0 L1478.1,1315.0 L1479.2,1315.0 L1480.2,1315.0 L1481.2,1315.0 L1482.3,1315.0 L1483.3,1315.0 L1484.4,1315.0 L1485.4,1315.0 L1486.5,1315.0 L1487.5,1315.0 L1488.5,1315.0 L1489.6,1315.0 L1490.6,1315.0 L1491.7,1315.0 L1492.7,1315.0 L1493.8,1315.0 L1494.8,1315.0 L1495.8,1315.0 L1496.9,1315.0 L1497.9,1315.0 L1499.0,1315.0 L1500.0,1315.0 L1501.0,1315.0 L1502.1,1315.0 L1503.1,1315.0 L1504.2,1315.0 L1505.2,1315.0 L1506.2,1315.0 L1507.3,1315.0 L1508.3,1315.0 L1509.4,1315.0 L1510.4,1315.0 L1511.5,1315.0 L1512.5,1315.0 L1513.5,1315.0 L1514.6,1315.0 L1515.6,1315.0 L1516.7,1315.0 L1517.7,1315.0 L1518.8,1315.0 L1519.8,1315.0 L1520.8,1315.0 L1521.9,1315.0 L1522.9,1315.0 L1524.0,1315.0 L1525.0,1315.0 L1526.0,1315.0 L1527.1,1315.0 L1528.1,1315.0 L1529.2,1315.0 L1530.2,1315.0 L1531.2,1315.0 L1532.3,1315.0 L1533.3,1315.0 L1534.4,1315.0 L1535.4,1315.0 L1536.5,1315.0 L1537.5,1315.0 L1538.5,1315.0 L1539.6,1315.0 L1540.6,1315.0 L1541.7,1315.0 L1542.7,1315.0 L1543.8,1315.0 L1544.8,1315.0 L1545.8,1315.0 L1546.9,1315.0 L1547.9,1315.0 L1549.0,1315.0 L1550.0,1315.0 L1551.0,1315.0 L1552.1,1315.0 L1553.1,1315.0 L1554.2,1315.0 L1555.2,1315.0 L1556.2,1315.0 L1557.3,1315.0 L1558.3,1315.0 L1559.4,1315.0 L1560.4,1315.0 L1561.5,1315.0 L1562.5,1315.0 L1563.5,1315.0 L1564.6,1315.0 L1565.6,1315.0 L1566.7,1315.0 L1567.7,1315.0 L1568.8,1315.0 L1569.8,1315.0 L1570.8,1315.0 L1571.9,1315.0 L1572.9,1315.0 L1574.0,1315.0 L1575.0,1315.0 L1576.0,1315.0 L1577.1,1315.0 L1578.1,1315.0 L1579.2,1315.0 L1580.2,1315.0 L1581.2,1315.0 L1582.3,1315.0 L1583.3,1315.0 L1584.4,1315.0 L1585.4,1315.0 L1586.5,1315.0 L1587.5,1315.0 L1588.5,1315.0 L1589.6,1315.0 L1590.6,1315.0 L1591.7,1315.0 L1592.7,1315.0 L1593.8,1315.0 L1594.8,1315.0 L1595.8,1315.0 L1596.9,1315.0 L1597.9,1315.0 L1599.0,1315.0 L1600.0,1315.0 L1601.0,1315.0 L1602.1,1315.0 L1603.1,1315.0 L1604.2,1315.0 L1605.2,1315.0 L1606.2,1315.0 L1607.3,1315.0 L1608.3,1315.0 L1609.4,1315.0 L1610.4,1315.0 L1611.5,1315.0 L1612.5,1315.0 L1613.5,1315.0 L1614.6,1315.0 L1615.6,1315.0 L1616.7,1315.0 L1617.7,1315.0 L1618.8,1315.0 L1619.8,1315.0 L1620.8,1315.0 L1621.9,1315.0 L1622.9,1315.0 L1624.0,1315.0 L1625.0,1315.0 L1626.0,1315.0 L1627.1,1315.0 L1628.1,1315.0 L1629.2,1315.0 L1630.2,1315.0 L1631.2,1315.0 L1632.3,1315.0 L1633.3,1315.0 L1634.4,1315.0 L1635.4,1315.0 L1636.5,1315.0 L1637.5,1315.0 L1638.5,1315.0 L1639.6,1315.0 L1640.6,1315.0 L1641.7,1315.0 L1642.7,1315.0 L1643.8,1315.0 L1644.8,1315.0 L1645.8,1315.0 L1646.9,1315.0 L1647.9,1315.0 L1649.0,1315.0 L1650.0,1315.0 L1651.0,1315.0 L1652.1,1315.0 L1653.1,1315.0 L1654.2,1315.0 L1655.2,1315.0 L1656.2,1315.0 L1657.3,1315.0 L1658.3,1315.0 L1659.4,1315.0 L1660.4,1315.0 L1661.5,1315.0 L1662.5,1315.0 L1663.5,1315.0 L1664.6,1315.0 L1665.6,1315.0 L1666.7,1315.0 L1667.7,1315.0 L1668.8,1315.0 L1669.8,1315.0 L1670.8,1315.0 L1671.9,1315.0 L1672.9,1315.0 L1674.0,1315.0 L1675.0,1315.0 L1676.0,1315.0 L1677.1,1315.0 L1678.1,1315.0 L1679.2,1315.0 L1680.2,1315.0 L1681.2,1315.0 L1682.3,1315.0 L1683.3,1315.0 L1684.4,1315.0 L1685.4,1315.0 L1686.5,1315.0 L1687.5,1315.0 L1688.5,1315.0 L1689.6,1315.0 L1690.6,1315.0 L1691.7,1315.0 L1692.7,1315.0 L1693.8,1315.0 L1694.8,1315.0 L1695.8,1315.0 L1696.9,1315.0 L1697.9,1315.0 L1699.0,1315.0 L1700.0,1315.0 L1701.0,1315.0 L1702.1,1315.0 L1703.1,1315.0 L1704.2,1315.0 L1705.2,1315.0 L1706.2,1315.0 L1707.3,1315.0 L1708.3,1315.0 L1709.4,1315.0 L1710.4,1315.0 L1711.5,1315.0 L1712.5,1315.0 L1713.5,1315.0 L1714.6,1315.0 L1715.6,1315.0 L1716.7,1315.0 L1717.7,1315.0 L1718.8,1315.0 L1719.8,1315.0 L1720.8,1315.0 L1721.9,1315.0 L1722.9,1315.0 L1724.0,1315.0 L1725.0,1315.0 L1726.0,1315.0 L1727.1,1315.0 L1728.1,1315.0 L1729.2,1315.0 L1730.2,1315.0 L1731.2,1315.0 L1732.3,1315.0 L1733.3,1315.0 L1734.4,1315.0 L1735.4,1315.0 L1736.5,1315.0 L1737.5,1315.0 L1738.5,1315.0 L1739.6,1315.0 L1740.6,1315.0 L1741.7,1315.0 L1742.7,1315.0 L1743.8,1315.0 L1744.8,1315.0 L1745.8,1315.0 L1746.9,1315.0 L1747.9,1315.0 L1749.0,1315.0 L1750.0,1315.0 L1751.0,1315.0 L1752.1,1315.0 L1753.1,1315.0 L1754.2,1315.0 L1755.2,1315.0 L1756.2,1315.0 L1757.3,1315.0 L1758.3,1315.0 L1759.4,1315.0 L1760.4,1315.0 L1761.5,1315.0 L1762.5,1315.0 L1763.5,1315.0 L1764.6,1315.0 L1765.6,1315.0 L1766.7,1315.0 L1767.7,1315.0 L1768.8,1315.0 L1769.8,1315.0 L1770.8,1315.0 L1771.9,1315.0" stroke="rgb(0,255,255)" stroke-opacity="0.87" stroke-width="14.7" stroke-linecap="round" stroke-dasharray="0 24.79"/>
</g>
<path clip-path="url(#c2)" d="M183.3,1315.8 L185.4,1315.8 L187.5,1315.8 L189.6,1315.8 L191.7,1315.8 L193.8,1315.8 L195.8,1315.8 L197.9,1315.8 L200.0,1315.8 L202.1,1315.8 L204.2,1315.8 L206.2,1315.8 L208.3,1315.8 L210.4,1315.8 L212.5,1315.8 L214.6,1315.8 L216.7,1315.8 L218.8,1315.8 L220.8,1315.8 L222.9,1315.8 L225.0,1315.8 L227.1,1315.8 L229.2,1315.8 L231.2,1315.8 L233.3,1315.8 L235.4,1315.8 L237.5,1315.8 L239.6,1315.8 L241.7,1315.8 L243.8,1315.8 L245.8,1315.8 L247.9,1315.8 L250.0,1315.8 L252.1,1315.8 L254.2,1315.8 L256.2,1315.8 L258.3,1315.8 L260.4,1315.8 L262.5,1315.8 L264.6,1315.8 L266.7,1315.8 L268.8,1315.8 L270.8,1315.8 L272.9,1315.8 L275.0,1315.8 L277.1,1315.7 L279.2,1315.7 L281.2,1315.7 L283.3,1315.7 L285.4,1315.7 L287.5,1315.7 L289.6,1315.6 L291.7,1315.6 L293.8,1315.6 L295.8,1315.5 L297.9,1315.5 L300.0,1315.4 L302.1,1315.4 L304.2,1315.3 L306.2,1315.2 L308.3,1315.1 L310.4,1315.0 L312.5,1314.9 L314.6,1314.8 L316.7,1314.6 L318.8,1314.4 L320.8,1314.2 L322.9,1314.0 L325.0,1313.8 L327.1,1313.5 L329.2,1313.2 L331.2,1312.8 L333.3,1312.4 L335.4,1312.0 L337.5,1311.5 L339.6,1311.0 L341.7,1310.5 L343.8,1309.9 L345.8,1309.2 L347.9,1308.5 L350.0,1307.7 L352.1,1306.8 L354.2,1305.9 L356.2,1305.0 L358.3,1303.9 L360.4,1302.8 L362.5,1301.7 L364.6,1300.4 L366.7,1299.1 L368.8,1297.8 L370.8,1296.3 L372.9,1294.8 L375.0,1293.3 L377.1,1291.7 L379.2,1290.0 L381.2,1288.3 L383.3,1286.6 L385.4,1284.8 L387.5,1283.0 L389.6,1281.2 L391.7,1279.4 L393.8,1277.6 L395.8,1275.8 L397.9,1274.0 L400.0,1272.2 L402.1,1270.5 L404.2,1268.8 L406.2,1267.2 L408.3,1265.7 L410.4,1264.2 L412.5,1262.9 L414.6,1261.6 L416.7,1260.4 L418.8,1259.4 L420.8,1258.4 L422.9,1257.6 L425.0,1257.0 L427.1,1256.5 L429.2,1256.1 L431.2,1255.9 L433.3,1255.8 L435.4,1255.9 L437.5,1256.1 L439.6,1256.4 L441.7,1256.9 L443.8,1257.6 L445.8,1258.3 L447.9,1259.2 L450.0,1260.2 L452.1,1261.3 L454.2,1262.5 L456.2,1263.8 L458.3,1265.2 L460.4,1266.7 L462.5,1268.3 L464.6,1269.9 L466.7,1271.6 L468.8,1273.3 L470.8,1275.0 L472.9,1276.8 L475.0,1278.5 L477.1,1280.3 L479.2,1282.1 L481.2,1283.8 L483.3,1285.6 L485.4,1287.3 L487.5,1289.0 L489.6,1290.6 L491.7,1292.2 L493.8,1293.7 L495.8,1295.2 L497.9,1296.7 L500.0,1298.1 L502.1,1299.4 L504.2,1300.6 L506.2,1301.8 L508.3,1303.0 L510.4,1304.0 L512.5,1305.0 L514.6,1306.0 L516.7,1306.9 L518.8,1307.7 L520.8,1308.4 L522.9,1309.2 L525.0,1309.8 L527.1,1310.4 L529.2,1311.0 L531.2,1311.5 L533.3,1311.9 L535.4,1312.4 L537.5,1312.7 L539.6,1313.1 L541.7,1313.4 L543.8,1313.7 L545.8,1313.9 L547.9,1314.2 L550.0,1314.4 L552.1,1314.5 L554.2,1314.7 L556.2,1314.8 L558.3,1315.0 L560.4,1315.1 L562.5,1315.2 L564.6,1315.3 L566.7,1315.3 L568.8,1315.4 L570.8,1315.5 L572.9,1315.5 L575.0,1315.6 L577.1,1315.6 L579.2,1315.6 L581.2,1315.7 L583.3,1315.7 L585.4,1315.7 L587.5,1315.7 L589.6,1315.7 L591.7,1315.7 L593.8,1315.7 L595.8,1315.8 L597.9,1315.8 L600.0,1315.8 L602.1,1315.8 L604.2,1315.8 L606.2,1315.8 L608.3,1315.8 L610.4,1315.8 L612.5,1315.8 L614.6,1315.8 L616.7,1315.8 L618.8,1315.8 L620.8,1315.8 L622.9,1315.8 L625.0,1315.8 L627.1,1315.8 L629.2,1315.8 L631.2,1315.8 L633.3,1315.8 L635.4,1315.8 L637.5,1315.8 L639.6,1315.8 L641.7,1315.8 L643.8,1315.8 L645.8,1315.8 L647.9,1315.8 L650.0,1315.8 L652.1,1315.8 L654.2,1315.8 L656.2,1315.8 L658.3,1315.8 L660.4,1315.8 L662.5,1315.8 L664.6,1315.8 L666.7,1315.8 L668.8,1315.8 L670.8,1315.8 L672.9,1315.8 L675.0,1315.8 L677.1,1315.8 L679.2,1315.8 L681.2,1315.8 L683.3,1315.8 L685.4,1315.8 L687.5,1315.8 L689.6,1315.8 L691.7,1315.8 L693.8,1315.8 L695.8,1315.8 L697.9,1315.8 L700.0,1315.8 L702.1,1315.8 L704.2,1315.8 L706.2,1315.8 L708.3,1315.8 L710.4,1315.8 L712.5,1315.8 L714.6,1315.8 L716.7,1315.8 L718.8,1315.8 L720.8,1315.8 L722.9,1315.8 L725.0,1315.8 L727.1,1315.8 L729.2,1315.8 L731.2,1315.8 L733.3,1315.8 L735.4,1315.8 L737.5,1315.8 L739.6,1315.8 L741.7,1315.8 L743.8,1315.8 L745.8,1315.8 L747.9,1315.8 L750.0,1315.8 L752.1,1315.8 L754.2,1315.8 L756.2,1315.8 L758.3,1315.8 L760.4,1315.8 L762.5,1315.8 L764.6,1315.8 L766.7,1315.8 L768.8,1315.8 L770.8,1315.8 L772.9,1315.8 L775.0,1315.8 L777.1,1315.8 L779.2,1315.8 L781.2,1315.8 L783.3,1315.8 L785.4,1315.8 L787.5,1315.8 L789.6,1315.8 L791.7,1315.8 L793.8,1315.8 L795.8,1315.8 L797.9,1315.8 L800.0,1315.8 L802.1,1315.8 L804.2,1315.8 L806.2,1315.8 L808.3,1315.8 L810.4,1315.8 L812.5,1315.8 L814.6,1315.8 L816.7,1315.8 L818.8,1315.8 L820.8,1315.8 L822.9,1315.8 L825.0,1315.8 L827.1,1315.8 L829.2,1315.8 L831.2,1315.8 L833.3,1315.8 L835.4,1315.8 L837.5,1315.8 L839.6,1315.8 L841.7,1315.8 L843.8,1315.8 L845.8,1315.8 L847.9,1315.8 L850.0,1315.8 L852.1,1315.8 L854.2,1315.8 L856.2,1315.8 L858.3,1315.8 L860.4,1315.8 L862.5,1315.8 L864.6,1315.8 L866.7,1315.8 L868.8,1315.8 L870.8,1315.8 L872.9,1315.8 L875.0,1315.8 L877.1,1315.8 L879.2,1315.8 L881.2,1315.8 L883.3,1315.8 L885.4,1315.8 L887.5,1315.8 L889.6,1315.8 L891.7,1315.8 L893.8,1315.8 L895.8,1315.8 L897.9,1315.8 L900.0,1315.8 L902.1,1315.8 L904.2,1315.8 L906.2,1315.8 L908.3,1315.8 L910.4,1315.8 L912.5,1315.8 L914.6,1315.8 L916.7,1315.8 L918.8,1315.8 L920.8,1315.8 L922.9,1315.8 L925.0,1315.8 L927.1,1315.8 L929.2,1315.8 L931.2,1315.8 L933.3,1315.8 L935.4,1315.8 L937.5,1315.8 L939.6,1315.8 L941.7,1315.8 L943.8,1315.8 L945.8,1315.8 L947.9,1315.8 L950.0,1315.8 L952.1,1315.8 L954.2,1315.8 L956.2,1315.8 L958.3,1315.8 L960.4,1315.8 L962.5,1315.8 L964.6,1315.8 L966.7,1315.8 L968.8,1315.8 L970.8,1315.8 L972.9,1315.8 L975.0,1315.8 L977.1,1315.8 L979.2,1315.8 L981.2,1315.8 L983.3,1315.8 L985.4,1315.8 L987.5,1315.8 L989.6,1315.8 L991.7,1315.8 L993.8,1315.8 L995.8,1315.8 L997.9,1315.8 L1000.0,1315.8 L1002.1,1315.8 L1004.2,1315.8 L1006.2,1315.8 L1008.3,1315.8 L1010.4,1315.8 L1012.5,1315.8 L1014.6,1315.8 L1016.7,1315.8 L1018.8,1315.8 L1020.8,1315.8 L1022.9,1315.8 L1025.0,1315.8 L1027.1,1315.8 L1029.2,1315.8 L1031.2,1315.8 L1033.3,1315.8 L1035.4,1315.8 L1037.5,1315.8 L1039.6,1315.8 L1041.7,1315.8 L1043.8,1315.8 L1045.8,1315.8 L1047.9,1315.8 L1050.0,1315.8 L1052.1,1315.8 L1054.2,1315.8 L1056.2,1315.8 L1058.3,1315.8 L1060.4,1315.8 L1062.5,1315.8 L1064.6,1315.8 L1066.7,1315.8 L1068.8,1315.8 L1070.8,1315.8 L1072.9,1315.8 L1075.0,1315.8 L1077.1,1315.8 L1079.2,1315.8 L1081.2,1315.8 L1083.3,1315.8 L1085.4,1315.8 L1087.5,1315.8 L1089.6,1315.8 L1091.7,1315.8 L1093.8,1315.8 L1095.8,1315.8 L1097.9,1315.8 L1100.0,1315.8 L1102.1,1315.8 L1104.2,1315.8 L1106.2,1315.8 L1108.3,1315.8 L1110.4,1315.8 L1112.5,1315.8 L1114.6,1315.8 L1116.7,1315.8 L1118.8,1315.8 L1120.8,1315.8 L1122.9,1315.8 L1125.0,1315.8 L1127.1,1315.8 L1129.2,1315.8 L1131.2,1315.8 L1133.3,1315.8 L1135.4,1315.8 L1137.5,1315.8 L1139.6,1315.8 L1141.7,1315.8 L1143.8,1315.8 L1145.8,1315.8 L1147.9,1315.8 L1150.0,1315.8 L1152.1,1315.8 L1154.2,1315.8 L1156.2,1315.8 L1158.3,1315.8 L1160.4,1315.8 L1162.5,1315.8 L1164.6,1315.8 L1166.7,1315.8 L1168.8,1315.8 L1170.8,1315.8 L1172.9,1315.8 L1175.0,1315.8 L1177.1,1315.8 L1179.2,1315.8 L1181.2,1315.8 L1183.3,1315.8 L1185.4,1315.8 L1187.5,1315.8 L1189.6,1315.8 L1191.7,1315.8 L1193.8,1315.8 L1195.8,1315.8 L1197.9,1315.8 L1200.0,1315.8 L1202.1,1315.8 L1204.2,1315.8 L1206.2,1315.8 L1208.3,1315.8 L1210.4,1315.8 L1212.5,1315.8 L1214.6,1315.8 L1216.7,1315.8 L1218.8,1315.8 L1220.8,1315.8 L1222.9,1315.8 L1225.0,1315.8 L1227.1,1315.8 L1229.2,1315.8 L1231.2,1315.8 L1233.3,1315.8 L1235.4,1315.8 L1237.5,1315.8 L1239.6,1315.8 L1241.7,1315.8 L1243.8,1315.8 L1245.8,1315.8 L1247.9,1315.8 L1250.0,1315.8 L1252.1,1315.8 L1254.2,1315.8 L1256.2,1315.8 L1258.3,1315.8 L1260.4,1315.8 L1262.5,1315.8 L1264.6,1315.8 L1266.7,1315.8 L1268.8,1315.8 L1270.8,1315.8 L1272.9,1315.8 L1275.0,1315.8 L1277.1,1315.8 L1279.2,1315.8 L1281.2,1315.8 L1283.3,1315.8 L1285.4,1315.8 L1287.5,1315.8 L1289.6,1315.8 L1291.7,1315.8 L1293.8,1315.8 L1295.8,1315.8 L1297.9,1315.8 L1300.0,1315.8 L1302.1,1315.8 L1304.2,1315.8 L1306.2,1315.8 L1308.3,1315.8 L1310.4,1315.8 L1312.5,1315.8 L1314.6,1315.8 L1316.7,1315.8 L1318.8,1315.8 L1320.8,1315.8 L1322.9,1315.8 L1325.0,1315.8 L1327.1,1315.8 L1329.2,1315.8 L1331.2,1315.8 L1333.3,1315.8 L1335.4,1315.8 L1337.5,1315.8 L1339.6,1315.8 L1341.7,1315.8 L1343.8,1315.8 L1345.8,1315.8 L1347.9,1315.8 L1350.0,1315.8 L1352.1,1315.8 L1354.2,1315.8 L1356.2,1315.8 L1358.3,1315.8 L1360.4,1315.8 L1362.5,1315.8 L1364.6,1315.8 L1366.7,1315.8 L1368.8,1315.8 L1370.8,1315.8 L1372.9,1315.8 L1375.0,1315.8 L1377.1,1315.8 L1379.2,1315.8 L1381.2,1315.8 L1383.3,1315.8 L1385.4,1315.8 L1387.5,1315.8 L1389.6,1315.8 L1391.7,1315.8 L1393.8,1315.8 L1395.8,1315.8 L1397.9,1315.8 L1400.0,1315.8 L1402.1,1315.8 L1404.2,1315.8 L1406.2,1315.8 L1408.3,1315.8 L1410.4,1315.8 L1412.5,1315.8 L1414.6,1315.8 L1416.7,1315.8 L1418.8,1315.8 L1420.8,1315.8 L1422.9,1315.8 L1425.0,1315.8 L1427.1,1315.8 L1429.2,1315.8 L1431.2,1315.8 L1433.3,1315.8 L1435.4,1315.8 L1437.5,1315.8 L1439.6,1315.8 L1441.7,1315.8 L1443.8,1315.8 L1445.8,1315.8 L1447.9,1315.8 L1450.0,1315.8 L1452.1,1315.8 L1454.2,1315.8 L1456.2,1315.8 L1458.3,1315.8 L1460.4,1315.8 L1462.5,1315.8 L1464.6,1315.8 L1466.7,1315.8 L1468.8,1315.8 L1470.8,1315.8 L1472.9,1315.8 L1475.0,1315.8 L1477.1,1315.8 L1479.2,1315.8 L1481.2,1315.8 L1483.3,1315.8 L1485.4,1315.8 L1487.5,1315.8 L1489.6,1315.8 L1491.7,1315.8 L1493.8,1315.8 L1495.8,1315.8 L1497.9,1315.8 L1500.0,1315.8 L1502.1,1315.8 L1504.2,1315.8 L1506.2,1315.8 L1508.3,1315.8 L1510.4,1315.8 L1512.5,1315.8 L1514.6,1315.8 L1516.7,1315.8 L1518.8,1315.8 L1520.8,1315.8 L1522.9,1315.8 L1525.0,1315.8 L1527.1,1315.8 L1529.2,1315.8 L1531.2,1315.8 L1533.3,1315.8 L1535.4,1315.8 L1537.5,1315.8 L1539.6,1315.8 L1541.7,1315.8 L1543.8,1315.8 L1545.8,1315.8 L1547.9,1315.8 L1550.0,1315.8 L1552.1,1315.8 L1554.2,1315.8 L1556.2,1315.8 L1558.3,1315.8 L1560.4,1315.8 L1562.5,1315.8 L1564.6,1315.8 L1566.7,1315.8 L1568.8,1315.8 L1570.8,1315.8 L1572.9,1315.8 L1575.0,1315.8 L1577.1,1315.8 L1579.2,1315.8 L1581.2,1315.8 L1583.3,1315.8 L1585.4,1315.8 L1587.5,1315.8 L1589.6,1315.8 L1591.7,1315.8 L1593.8,1315.8 L1595.8,1315.8 L1597.9,1315.8 L1600.0,1315.8 L1602.1,1315.8 L1604.2,1315.8 L1606.2,1315.8 L1608.3,1315.8 L1610.4,1315.8 L1612.5,1315.8 L1614.6,1315.8 L1616.7,1315.8 L1618.8,1315.8 L1620.8,1315.8 L1622.9,1315.8 L1625.0,1315.8 L1627.1,1315.8 L1629.2,1315.8 L1631.2,1315.8 L1633.3,1315.8 L1635.4,1315.8 L1637.5,1315.8 L1639.6,1315.8 L1641.7,1315.8 L1643.8,1315.8 L1645.8,1315.8 L1647.9,1315.8 L1650.0,1315.8 L1652.1,1315.8 L1654.2,1315.8 L1656.2,1315.8 L1658.3,1315.8 L1660.4,1315.8 L1662.5,1315.8 L1664.6,1315.8 L1666.7,1315.8 L1668.8,1315.8 L1670.8,1315.8 L1672.9,1315.8 L1675.0,1315.8 L1677.1,1315.8 L1679.2,1315.8 L1681.2,1315.8 L1683.3,1315.8 L1685.4,1315.8 L1687.5,1315.8 L1689.6,1315.8 L1691.7,1315.8 L1693.8,1315.8 L1695.8,1315.8 L1697.9,1315.8 L1700.0,1315.8 L1702.1,1315.8 L1704.2,1315.8 L1706.2,1315.8 L1708.3,1315.8 L1710.4,1315.8 L1712.5,1315.8 L1714.6,1315.8 L1716.7,1315.8 L1718.8,1315.8 L1720.8,1315.8 L1722.9,1315.8 L1725.0,1315.8 L1727.1,1315.8 L1729.2,1315.8 L1731.2,1315.8 L1733.3,1315.8 L1735.4,1315.8 L1737.5,1315.8 L1739.6,1315.8 L1741.7,1315.8 L1743.8,1315.8 L1745.8,1315.8 L1747.9,1315.8 L1750.0,1315.8 L1752.1,1315.8 L1754.2,1315.8 L1756.2,1315.8 L1758.3,1315.8 L1760.4,1315.8 L1762.5,1315.8 L1764.6,1315.8 L1766.7,1315.8" stroke="#ff0000" stroke-width="18" fill="none"/>
<line x1="1767.19" y1="24" x2="1767.19" y2="1318" stroke="#000" stroke-width="6"/>
<line x1="1242.50" y1="82.4" x2="1400.00" y2="82.4" stroke="#000" stroke-width="17.5"/>
<line x1="1242.50" y1="192.9" x2="1400.00" y2="192.9" stroke="#f00" stroke-width="17.5"/>
<line x1="1243.33" y1="303.4" x2="1399.27" y2="303.4" stroke="rgb(0,128,0)" stroke-opacity="0.9" stroke-width="17.5" stroke-linecap="round"/>
<line x1="1243.33" y1="414.4" x2="1399.27" y2="414.4" stroke="rgb(0,0,255)" stroke-opacity="0.8" stroke-width="17.5" stroke-linecap="round"/>
<line x1="1243.44" y1="525" x2="1392.71" y2="525" stroke="rgb(0,255,255)" stroke-opacity="0.87" stroke-width="14.7" stroke-linecap="round" stroke-dasharray="0 24.708"/>
</g>
<defs><filter id="al" x="0" y="0" width="1731" height="1593" filterUnits="userSpaceOnUse" color-interpolation-filters="sRGB"><feComponentTransfer><feFuncA type="discrete" tableValues="0 1"/></feComponentTransfer></filter></defs>
<g filter="url(#al)">
<text transform="translate(184.80,116.00) scale(0.9489,1)" font-size="89.5">Deconvolution A1</text>
<text transform="translate(1364.00,106.50) scale(0.9367,1)" font-size="89.5">Spectra</text>
<text transform="translate(1367.60,217.20) scale(0.9335,1)" font-size="91">1.5 eV</text>
<text transform="translate(1367.60,327.80) scale(0.9343,1)" font-size="91">1.7 eV</text>
<text transform="translate(1367.60,438.80) scale(0.9327,1)" font-size="91">1.9 eV</text>
<text transform="translate(1367.40,549.00) scale(0.9416,1)" font-size="89.5">Fit Peak</text>
<text transform="translate(631.00,1538.80) scale(0.9411,1)" font-size="116.5">Energy [eV]</text>
<text transform="translate(110.60,823.60) rotate(-90) scale(0.9801,0.9600)" font-size="116.5">I(E) d(E)</text>
<text transform="translate(313.50,1421.70) scale(0.9066,1)" font-size="79.5">1.5</text>
<text transform="translate(529.59,1421.70) scale(0.9066,1)" font-size="79.5">1.8</text>
<text transform="translate(745.68,1421.70) scale(0.9066,1)" font-size="79.5">2.1</text>
<text transform="translate(961.77,1421.70) scale(0.9066,1)" font-size="79.5">2.4</text>
<text transform="translate(1177.86,1421.70) scale(0.9066,1)" font-size="79.5">2.7</text>
<text transform="translate(1393.95,1421.70) scale(0.9066,1)" font-size="79.5">3.0</text>
<text transform="translate(1610.04,1421.70) scale(0.9066,1)" font-size="79.5">3.3</text>
</g>
</svg></body></html>
